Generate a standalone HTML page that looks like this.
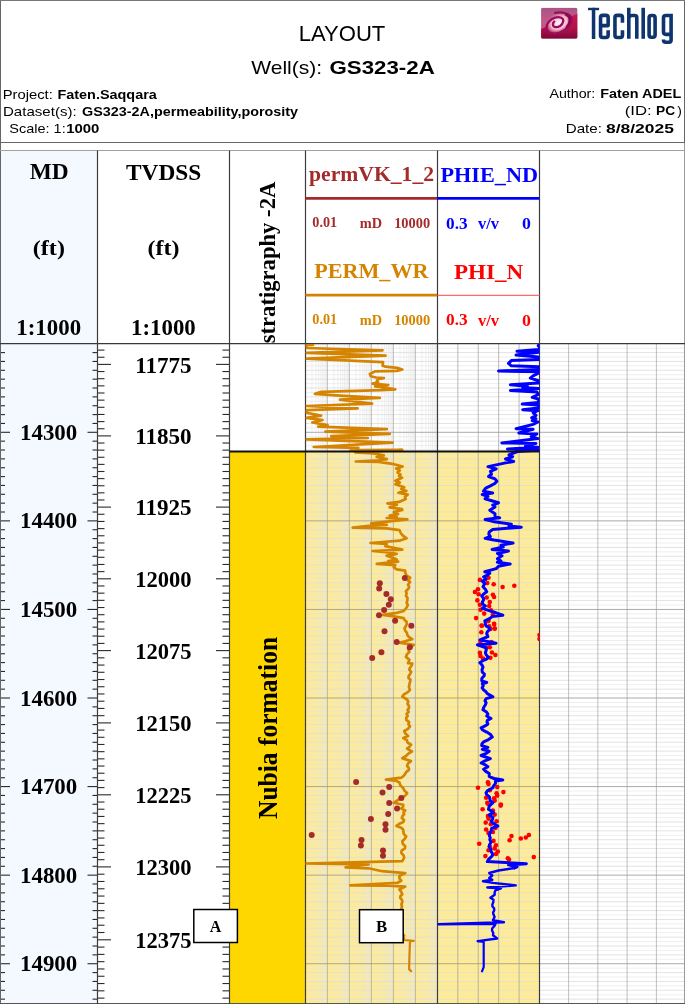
<!DOCTYPE html>
<html><head><meta charset="utf-8"><title>Layout</title>
<style>html,body{margin:0;padding:0;background:#fff;}body{width:685px;height:1004px;overflow:hidden;font-family:"Liberation Sans",sans-serif;}svg{display:block;will-change:transform;}</style>
</head><body>
<svg width="685" height="1004" viewBox="0 0 685 1004"><rect x="0" y="0" width="685" height="1004" fill="#fff"/>
<rect x="1" y="150.5" width="96.5" height="853" fill="#f4f8ff"/>
<rect x="230" y="451.5" width="75.4" height="551.5" fill="#ffd700"/>
<rect x="305.4" y="451.5" width="234.1" height="551.5" fill="#ffec92"/>
<line x1="312.02" y1="343.5" x2="312.02" y2="1003.0" stroke="rgba(228,228,228,0.6)" stroke-width="1"/>
<line x1="315.90" y1="343.5" x2="315.90" y2="1003.0" stroke="rgba(228,228,228,0.6)" stroke-width="1"/>
<line x1="318.65" y1="343.5" x2="318.65" y2="1003.0" stroke="rgba(228,228,228,0.6)" stroke-width="1"/>
<line x1="320.78" y1="343.5" x2="320.78" y2="1003.0" stroke="rgba(228,228,228,0.6)" stroke-width="1"/>
<line x1="322.52" y1="343.5" x2="322.52" y2="1003.0" stroke="rgba(228,228,228,0.6)" stroke-width="1"/>
<line x1="323.99" y1="343.5" x2="323.99" y2="1003.0" stroke="rgba(228,228,228,0.6)" stroke-width="1"/>
<line x1="325.27" y1="343.5" x2="325.27" y2="1003.0" stroke="rgba(228,228,228,0.6)" stroke-width="1"/>
<line x1="326.39" y1="343.5" x2="326.39" y2="1003.0" stroke="rgba(228,228,228,0.6)" stroke-width="1"/>
<line x1="334.02" y1="343.5" x2="334.02" y2="1003.0" stroke="rgba(228,228,228,0.6)" stroke-width="1"/>
<line x1="337.90" y1="343.5" x2="337.90" y2="1003.0" stroke="rgba(228,228,228,0.6)" stroke-width="1"/>
<line x1="340.65" y1="343.5" x2="340.65" y2="1003.0" stroke="rgba(228,228,228,0.6)" stroke-width="1"/>
<line x1="342.78" y1="343.5" x2="342.78" y2="1003.0" stroke="rgba(228,228,228,0.6)" stroke-width="1"/>
<line x1="344.52" y1="343.5" x2="344.52" y2="1003.0" stroke="rgba(228,228,228,0.6)" stroke-width="1"/>
<line x1="345.99" y1="343.5" x2="345.99" y2="1003.0" stroke="rgba(228,228,228,0.6)" stroke-width="1"/>
<line x1="347.27" y1="343.5" x2="347.27" y2="1003.0" stroke="rgba(228,228,228,0.6)" stroke-width="1"/>
<line x1="348.39" y1="343.5" x2="348.39" y2="1003.0" stroke="rgba(228,228,228,0.6)" stroke-width="1"/>
<line x1="356.02" y1="343.5" x2="356.02" y2="1003.0" stroke="rgba(228,228,228,0.6)" stroke-width="1"/>
<line x1="359.90" y1="343.5" x2="359.90" y2="1003.0" stroke="rgba(228,228,228,0.6)" stroke-width="1"/>
<line x1="362.65" y1="343.5" x2="362.65" y2="1003.0" stroke="rgba(228,228,228,0.6)" stroke-width="1"/>
<line x1="364.78" y1="343.5" x2="364.78" y2="1003.0" stroke="rgba(228,228,228,0.6)" stroke-width="1"/>
<line x1="366.52" y1="343.5" x2="366.52" y2="1003.0" stroke="rgba(228,228,228,0.6)" stroke-width="1"/>
<line x1="367.99" y1="343.5" x2="367.99" y2="1003.0" stroke="rgba(228,228,228,0.6)" stroke-width="1"/>
<line x1="369.27" y1="343.5" x2="369.27" y2="1003.0" stroke="rgba(228,228,228,0.6)" stroke-width="1"/>
<line x1="370.39" y1="343.5" x2="370.39" y2="1003.0" stroke="rgba(228,228,228,0.6)" stroke-width="1"/>
<line x1="378.02" y1="343.5" x2="378.02" y2="1003.0" stroke="rgba(228,228,228,0.6)" stroke-width="1"/>
<line x1="381.90" y1="343.5" x2="381.90" y2="1003.0" stroke="rgba(228,228,228,0.6)" stroke-width="1"/>
<line x1="384.65" y1="343.5" x2="384.65" y2="1003.0" stroke="rgba(228,228,228,0.6)" stroke-width="1"/>
<line x1="386.78" y1="343.5" x2="386.78" y2="1003.0" stroke="rgba(228,228,228,0.6)" stroke-width="1"/>
<line x1="388.52" y1="343.5" x2="388.52" y2="1003.0" stroke="rgba(228,228,228,0.6)" stroke-width="1"/>
<line x1="389.99" y1="343.5" x2="389.99" y2="1003.0" stroke="rgba(228,228,228,0.6)" stroke-width="1"/>
<line x1="391.27" y1="343.5" x2="391.27" y2="1003.0" stroke="rgba(228,228,228,0.6)" stroke-width="1"/>
<line x1="392.39" y1="343.5" x2="392.39" y2="1003.0" stroke="rgba(228,228,228,0.6)" stroke-width="1"/>
<line x1="400.02" y1="343.5" x2="400.02" y2="1003.0" stroke="rgba(228,228,228,0.6)" stroke-width="1"/>
<line x1="403.90" y1="343.5" x2="403.90" y2="1003.0" stroke="rgba(228,228,228,0.6)" stroke-width="1"/>
<line x1="406.65" y1="343.5" x2="406.65" y2="1003.0" stroke="rgba(228,228,228,0.6)" stroke-width="1"/>
<line x1="408.78" y1="343.5" x2="408.78" y2="1003.0" stroke="rgba(228,228,228,0.6)" stroke-width="1"/>
<line x1="410.52" y1="343.5" x2="410.52" y2="1003.0" stroke="rgba(228,228,228,0.6)" stroke-width="1"/>
<line x1="411.99" y1="343.5" x2="411.99" y2="1003.0" stroke="rgba(228,228,228,0.6)" stroke-width="1"/>
<line x1="413.27" y1="343.5" x2="413.27" y2="1003.0" stroke="rgba(228,228,228,0.6)" stroke-width="1"/>
<line x1="414.39" y1="343.5" x2="414.39" y2="1003.0" stroke="rgba(228,228,228,0.6)" stroke-width="1"/>
<line x1="422.02" y1="343.5" x2="422.02" y2="1003.0" stroke="rgba(228,228,228,0.6)" stroke-width="1"/>
<line x1="425.90" y1="343.5" x2="425.90" y2="1003.0" stroke="rgba(228,228,228,0.6)" stroke-width="1"/>
<line x1="428.65" y1="343.5" x2="428.65" y2="1003.0" stroke="rgba(228,228,228,0.6)" stroke-width="1"/>
<line x1="430.78" y1="343.5" x2="430.78" y2="1003.0" stroke="rgba(228,228,228,0.6)" stroke-width="1"/>
<line x1="432.52" y1="343.5" x2="432.52" y2="1003.0" stroke="rgba(228,228,228,0.6)" stroke-width="1"/>
<line x1="433.99" y1="343.5" x2="433.99" y2="1003.0" stroke="rgba(228,228,228,0.6)" stroke-width="1"/>
<line x1="435.27" y1="343.5" x2="435.27" y2="1003.0" stroke="rgba(228,228,228,0.6)" stroke-width="1"/>
<line x1="436.39" y1="343.5" x2="436.39" y2="1003.0" stroke="rgba(228,228,228,0.6)" stroke-width="1"/>
<line x1="305.4" y1="348.16" x2="437.4" y2="348.16" stroke="rgba(228,228,228,0.6)" stroke-width="1"/>
<line x1="305.4" y1="352.59" x2="437.4" y2="352.59" stroke="rgba(222,222,222,0.85)" stroke-width="1"/>
<line x1="305.4" y1="357.02" x2="437.4" y2="357.02" stroke="rgba(228,228,228,0.6)" stroke-width="1"/>
<line x1="305.4" y1="361.44" x2="437.4" y2="361.44" stroke="rgba(222,222,222,0.85)" stroke-width="1"/>
<line x1="305.4" y1="365.87" x2="437.4" y2="365.87" stroke="rgba(228,228,228,0.6)" stroke-width="1"/>
<line x1="305.4" y1="370.30" x2="437.4" y2="370.30" stroke="rgba(222,222,222,0.85)" stroke-width="1"/>
<line x1="305.4" y1="374.73" x2="437.4" y2="374.73" stroke="rgba(228,228,228,0.6)" stroke-width="1"/>
<line x1="305.4" y1="379.16" x2="437.4" y2="379.16" stroke="rgba(222,222,222,0.85)" stroke-width="1"/>
<line x1="305.4" y1="383.59" x2="437.4" y2="383.59" stroke="rgba(228,228,228,0.6)" stroke-width="1"/>
<line x1="305.4" y1="388.01" x2="437.4" y2="388.01" stroke="rgba(222,222,222,0.85)" stroke-width="1"/>
<line x1="305.4" y1="392.44" x2="437.4" y2="392.44" stroke="rgba(228,228,228,0.6)" stroke-width="1"/>
<line x1="305.4" y1="396.87" x2="437.4" y2="396.87" stroke="rgba(222,222,222,0.85)" stroke-width="1"/>
<line x1="305.4" y1="401.30" x2="437.4" y2="401.30" stroke="rgba(228,228,228,0.6)" stroke-width="1"/>
<line x1="305.4" y1="405.73" x2="437.4" y2="405.73" stroke="rgba(222,222,222,0.85)" stroke-width="1"/>
<line x1="305.4" y1="410.16" x2="437.4" y2="410.16" stroke="rgba(228,228,228,0.6)" stroke-width="1"/>
<line x1="305.4" y1="414.59" x2="437.4" y2="414.59" stroke="rgba(222,222,222,0.85)" stroke-width="1"/>
<line x1="305.4" y1="419.01" x2="437.4" y2="419.01" stroke="rgba(228,228,228,0.6)" stroke-width="1"/>
<line x1="305.4" y1="423.44" x2="437.4" y2="423.44" stroke="rgba(222,222,222,0.85)" stroke-width="1"/>
<line x1="305.4" y1="427.87" x2="437.4" y2="427.87" stroke="rgba(228,228,228,0.6)" stroke-width="1"/>
<line x1="305.4" y1="436.73" x2="437.4" y2="436.73" stroke="rgba(228,228,228,0.6)" stroke-width="1"/>
<line x1="305.4" y1="441.16" x2="437.4" y2="441.16" stroke="rgba(222,222,222,0.85)" stroke-width="1"/>
<line x1="305.4" y1="445.59" x2="437.4" y2="445.59" stroke="rgba(228,228,228,0.6)" stroke-width="1"/>
<line x1="305.4" y1="450.01" x2="437.4" y2="450.01" stroke="rgba(222,222,222,0.85)" stroke-width="1"/>
<line x1="305.4" y1="454.44" x2="437.4" y2="454.44" stroke="rgba(228,228,228,0.6)" stroke-width="1"/>
<line x1="305.4" y1="458.87" x2="437.4" y2="458.87" stroke="rgba(222,222,222,0.85)" stroke-width="1"/>
<line x1="305.4" y1="463.30" x2="437.4" y2="463.30" stroke="rgba(228,228,228,0.6)" stroke-width="1"/>
<line x1="305.4" y1="467.73" x2="437.4" y2="467.73" stroke="rgba(222,222,222,0.85)" stroke-width="1"/>
<line x1="305.4" y1="472.16" x2="437.4" y2="472.16" stroke="rgba(228,228,228,0.6)" stroke-width="1"/>
<line x1="305.4" y1="476.59" x2="437.4" y2="476.59" stroke="rgba(222,222,222,0.85)" stroke-width="1"/>
<line x1="305.4" y1="481.01" x2="437.4" y2="481.01" stroke="rgba(228,228,228,0.6)" stroke-width="1"/>
<line x1="305.4" y1="485.44" x2="437.4" y2="485.44" stroke="rgba(222,222,222,0.85)" stroke-width="1"/>
<line x1="305.4" y1="489.87" x2="437.4" y2="489.87" stroke="rgba(228,228,228,0.6)" stroke-width="1"/>
<line x1="305.4" y1="494.30" x2="437.4" y2="494.30" stroke="rgba(222,222,222,0.85)" stroke-width="1"/>
<line x1="305.4" y1="498.73" x2="437.4" y2="498.73" stroke="rgba(228,228,228,0.6)" stroke-width="1"/>
<line x1="305.4" y1="503.16" x2="437.4" y2="503.16" stroke="rgba(222,222,222,0.85)" stroke-width="1"/>
<line x1="305.4" y1="507.58" x2="437.4" y2="507.58" stroke="rgba(228,228,228,0.6)" stroke-width="1"/>
<line x1="305.4" y1="512.01" x2="437.4" y2="512.01" stroke="rgba(222,222,222,0.85)" stroke-width="1"/>
<line x1="305.4" y1="516.44" x2="437.4" y2="516.44" stroke="rgba(228,228,228,0.6)" stroke-width="1"/>
<line x1="305.4" y1="525.30" x2="437.4" y2="525.30" stroke="rgba(228,228,228,0.6)" stroke-width="1"/>
<line x1="305.4" y1="529.73" x2="437.4" y2="529.73" stroke="rgba(222,222,222,0.85)" stroke-width="1"/>
<line x1="305.4" y1="534.16" x2="437.4" y2="534.16" stroke="rgba(228,228,228,0.6)" stroke-width="1"/>
<line x1="305.4" y1="538.58" x2="437.4" y2="538.58" stroke="rgba(222,222,222,0.85)" stroke-width="1"/>
<line x1="305.4" y1="543.01" x2="437.4" y2="543.01" stroke="rgba(228,228,228,0.6)" stroke-width="1"/>
<line x1="305.4" y1="547.44" x2="437.4" y2="547.44" stroke="rgba(222,222,222,0.85)" stroke-width="1"/>
<line x1="305.4" y1="551.87" x2="437.4" y2="551.87" stroke="rgba(228,228,228,0.6)" stroke-width="1"/>
<line x1="305.4" y1="556.30" x2="437.4" y2="556.30" stroke="rgba(222,222,222,0.85)" stroke-width="1"/>
<line x1="305.4" y1="560.73" x2="437.4" y2="560.73" stroke="rgba(228,228,228,0.6)" stroke-width="1"/>
<line x1="305.4" y1="565.15" x2="437.4" y2="565.15" stroke="rgba(222,222,222,0.85)" stroke-width="1"/>
<line x1="305.4" y1="569.58" x2="437.4" y2="569.58" stroke="rgba(228,228,228,0.6)" stroke-width="1"/>
<line x1="305.4" y1="574.01" x2="437.4" y2="574.01" stroke="rgba(222,222,222,0.85)" stroke-width="1"/>
<line x1="305.4" y1="578.44" x2="437.4" y2="578.44" stroke="rgba(228,228,228,0.6)" stroke-width="1"/>
<line x1="305.4" y1="582.87" x2="437.4" y2="582.87" stroke="rgba(222,222,222,0.85)" stroke-width="1"/>
<line x1="305.4" y1="587.30" x2="437.4" y2="587.30" stroke="rgba(228,228,228,0.6)" stroke-width="1"/>
<line x1="305.4" y1="591.73" x2="437.4" y2="591.73" stroke="rgba(222,222,222,0.85)" stroke-width="1"/>
<line x1="305.4" y1="596.15" x2="437.4" y2="596.15" stroke="rgba(228,228,228,0.6)" stroke-width="1"/>
<line x1="305.4" y1="600.58" x2="437.4" y2="600.58" stroke="rgba(222,222,222,0.85)" stroke-width="1"/>
<line x1="305.4" y1="605.01" x2="437.4" y2="605.01" stroke="rgba(228,228,228,0.6)" stroke-width="1"/>
<line x1="305.4" y1="613.87" x2="437.4" y2="613.87" stroke="rgba(228,228,228,0.6)" stroke-width="1"/>
<line x1="305.4" y1="618.30" x2="437.4" y2="618.30" stroke="rgba(222,222,222,0.85)" stroke-width="1"/>
<line x1="305.4" y1="622.73" x2="437.4" y2="622.73" stroke="rgba(228,228,228,0.6)" stroke-width="1"/>
<line x1="305.4" y1="627.15" x2="437.4" y2="627.15" stroke="rgba(222,222,222,0.85)" stroke-width="1"/>
<line x1="305.4" y1="631.58" x2="437.4" y2="631.58" stroke="rgba(228,228,228,0.6)" stroke-width="1"/>
<line x1="305.4" y1="636.01" x2="437.4" y2="636.01" stroke="rgba(222,222,222,0.85)" stroke-width="1"/>
<line x1="305.4" y1="640.44" x2="437.4" y2="640.44" stroke="rgba(228,228,228,0.6)" stroke-width="1"/>
<line x1="305.4" y1="644.87" x2="437.4" y2="644.87" stroke="rgba(222,222,222,0.85)" stroke-width="1"/>
<line x1="305.4" y1="649.30" x2="437.4" y2="649.30" stroke="rgba(228,228,228,0.6)" stroke-width="1"/>
<line x1="305.4" y1="653.73" x2="437.4" y2="653.73" stroke="rgba(222,222,222,0.85)" stroke-width="1"/>
<line x1="305.4" y1="658.15" x2="437.4" y2="658.15" stroke="rgba(228,228,228,0.6)" stroke-width="1"/>
<line x1="305.4" y1="662.58" x2="437.4" y2="662.58" stroke="rgba(222,222,222,0.85)" stroke-width="1"/>
<line x1="305.4" y1="667.01" x2="437.4" y2="667.01" stroke="rgba(228,228,228,0.6)" stroke-width="1"/>
<line x1="305.4" y1="671.44" x2="437.4" y2="671.44" stroke="rgba(222,222,222,0.85)" stroke-width="1"/>
<line x1="305.4" y1="675.87" x2="437.4" y2="675.87" stroke="rgba(228,228,228,0.6)" stroke-width="1"/>
<line x1="305.4" y1="680.30" x2="437.4" y2="680.30" stroke="rgba(222,222,222,0.85)" stroke-width="1"/>
<line x1="305.4" y1="684.72" x2="437.4" y2="684.72" stroke="rgba(228,228,228,0.6)" stroke-width="1"/>
<line x1="305.4" y1="689.15" x2="437.4" y2="689.15" stroke="rgba(222,222,222,0.85)" stroke-width="1"/>
<line x1="305.4" y1="693.58" x2="437.4" y2="693.58" stroke="rgba(228,228,228,0.6)" stroke-width="1"/>
<line x1="305.4" y1="702.44" x2="437.4" y2="702.44" stroke="rgba(228,228,228,0.6)" stroke-width="1"/>
<line x1="305.4" y1="706.87" x2="437.4" y2="706.87" stroke="rgba(222,222,222,0.85)" stroke-width="1"/>
<line x1="305.4" y1="711.30" x2="437.4" y2="711.30" stroke="rgba(228,228,228,0.6)" stroke-width="1"/>
<line x1="305.4" y1="715.72" x2="437.4" y2="715.72" stroke="rgba(222,222,222,0.85)" stroke-width="1"/>
<line x1="305.4" y1="720.15" x2="437.4" y2="720.15" stroke="rgba(228,228,228,0.6)" stroke-width="1"/>
<line x1="305.4" y1="724.58" x2="437.4" y2="724.58" stroke="rgba(222,222,222,0.85)" stroke-width="1"/>
<line x1="305.4" y1="729.01" x2="437.4" y2="729.01" stroke="rgba(228,228,228,0.6)" stroke-width="1"/>
<line x1="305.4" y1="733.44" x2="437.4" y2="733.44" stroke="rgba(222,222,222,0.85)" stroke-width="1"/>
<line x1="305.4" y1="737.87" x2="437.4" y2="737.87" stroke="rgba(228,228,228,0.6)" stroke-width="1"/>
<line x1="305.4" y1="742.30" x2="437.4" y2="742.30" stroke="rgba(222,222,222,0.85)" stroke-width="1"/>
<line x1="305.4" y1="746.72" x2="437.4" y2="746.72" stroke="rgba(228,228,228,0.6)" stroke-width="1"/>
<line x1="305.4" y1="751.15" x2="437.4" y2="751.15" stroke="rgba(222,222,222,0.85)" stroke-width="1"/>
<line x1="305.4" y1="755.58" x2="437.4" y2="755.58" stroke="rgba(228,228,228,0.6)" stroke-width="1"/>
<line x1="305.4" y1="760.01" x2="437.4" y2="760.01" stroke="rgba(222,222,222,0.85)" stroke-width="1"/>
<line x1="305.4" y1="764.44" x2="437.4" y2="764.44" stroke="rgba(228,228,228,0.6)" stroke-width="1"/>
<line x1="305.4" y1="768.87" x2="437.4" y2="768.87" stroke="rgba(222,222,222,0.85)" stroke-width="1"/>
<line x1="305.4" y1="773.29" x2="437.4" y2="773.29" stroke="rgba(228,228,228,0.6)" stroke-width="1"/>
<line x1="305.4" y1="777.72" x2="437.4" y2="777.72" stroke="rgba(222,222,222,0.85)" stroke-width="1"/>
<line x1="305.4" y1="782.15" x2="437.4" y2="782.15" stroke="rgba(228,228,228,0.6)" stroke-width="1"/>
<line x1="305.4" y1="791.01" x2="437.4" y2="791.01" stroke="rgba(228,228,228,0.6)" stroke-width="1"/>
<line x1="305.4" y1="795.44" x2="437.4" y2="795.44" stroke="rgba(222,222,222,0.85)" stroke-width="1"/>
<line x1="305.4" y1="799.87" x2="437.4" y2="799.87" stroke="rgba(228,228,228,0.6)" stroke-width="1"/>
<line x1="305.4" y1="804.29" x2="437.4" y2="804.29" stroke="rgba(222,222,222,0.85)" stroke-width="1"/>
<line x1="305.4" y1="808.72" x2="437.4" y2="808.72" stroke="rgba(228,228,228,0.6)" stroke-width="1"/>
<line x1="305.4" y1="813.15" x2="437.4" y2="813.15" stroke="rgba(222,222,222,0.85)" stroke-width="1"/>
<line x1="305.4" y1="817.58" x2="437.4" y2="817.58" stroke="rgba(228,228,228,0.6)" stroke-width="1"/>
<line x1="305.4" y1="822.01" x2="437.4" y2="822.01" stroke="rgba(222,222,222,0.85)" stroke-width="1"/>
<line x1="305.4" y1="826.44" x2="437.4" y2="826.44" stroke="rgba(228,228,228,0.6)" stroke-width="1"/>
<line x1="305.4" y1="830.87" x2="437.4" y2="830.87" stroke="rgba(222,222,222,0.85)" stroke-width="1"/>
<line x1="305.4" y1="835.29" x2="437.4" y2="835.29" stroke="rgba(228,228,228,0.6)" stroke-width="1"/>
<line x1="305.4" y1="839.72" x2="437.4" y2="839.72" stroke="rgba(222,222,222,0.85)" stroke-width="1"/>
<line x1="305.4" y1="844.15" x2="437.4" y2="844.15" stroke="rgba(228,228,228,0.6)" stroke-width="1"/>
<line x1="305.4" y1="848.58" x2="437.4" y2="848.58" stroke="rgba(222,222,222,0.85)" stroke-width="1"/>
<line x1="305.4" y1="853.01" x2="437.4" y2="853.01" stroke="rgba(228,228,228,0.6)" stroke-width="1"/>
<line x1="305.4" y1="857.44" x2="437.4" y2="857.44" stroke="rgba(222,222,222,0.85)" stroke-width="1"/>
<line x1="305.4" y1="861.86" x2="437.4" y2="861.86" stroke="rgba(228,228,228,0.6)" stroke-width="1"/>
<line x1="305.4" y1="866.29" x2="437.4" y2="866.29" stroke="rgba(222,222,222,0.85)" stroke-width="1"/>
<line x1="305.4" y1="870.72" x2="437.4" y2="870.72" stroke="rgba(228,228,228,0.6)" stroke-width="1"/>
<line x1="305.4" y1="879.58" x2="437.4" y2="879.58" stroke="rgba(228,228,228,0.6)" stroke-width="1"/>
<line x1="305.4" y1="884.01" x2="437.4" y2="884.01" stroke="rgba(222,222,222,0.85)" stroke-width="1"/>
<line x1="305.4" y1="888.44" x2="437.4" y2="888.44" stroke="rgba(228,228,228,0.6)" stroke-width="1"/>
<line x1="305.4" y1="892.86" x2="437.4" y2="892.86" stroke="rgba(222,222,222,0.85)" stroke-width="1"/>
<line x1="305.4" y1="897.29" x2="437.4" y2="897.29" stroke="rgba(228,228,228,0.6)" stroke-width="1"/>
<line x1="305.4" y1="901.72" x2="437.4" y2="901.72" stroke="rgba(222,222,222,0.85)" stroke-width="1"/>
<line x1="305.4" y1="906.15" x2="437.4" y2="906.15" stroke="rgba(228,228,228,0.6)" stroke-width="1"/>
<line x1="305.4" y1="910.58" x2="437.4" y2="910.58" stroke="rgba(222,222,222,0.85)" stroke-width="1"/>
<line x1="305.4" y1="915.01" x2="437.4" y2="915.01" stroke="rgba(228,228,228,0.6)" stroke-width="1"/>
<line x1="305.4" y1="919.44" x2="437.4" y2="919.44" stroke="rgba(222,222,222,0.85)" stroke-width="1"/>
<line x1="305.4" y1="923.86" x2="437.4" y2="923.86" stroke="rgba(228,228,228,0.6)" stroke-width="1"/>
<line x1="305.4" y1="928.29" x2="437.4" y2="928.29" stroke="rgba(222,222,222,0.85)" stroke-width="1"/>
<line x1="305.4" y1="932.72" x2="437.4" y2="932.72" stroke="rgba(228,228,228,0.6)" stroke-width="1"/>
<line x1="305.4" y1="937.15" x2="437.4" y2="937.15" stroke="rgba(222,222,222,0.85)" stroke-width="1"/>
<line x1="305.4" y1="941.58" x2="437.4" y2="941.58" stroke="rgba(228,228,228,0.6)" stroke-width="1"/>
<line x1="305.4" y1="946.01" x2="437.4" y2="946.01" stroke="rgba(222,222,222,0.85)" stroke-width="1"/>
<line x1="305.4" y1="950.43" x2="437.4" y2="950.43" stroke="rgba(228,228,228,0.6)" stroke-width="1"/>
<line x1="305.4" y1="954.86" x2="437.4" y2="954.86" stroke="rgba(222,222,222,0.85)" stroke-width="1"/>
<line x1="305.4" y1="959.29" x2="437.4" y2="959.29" stroke="rgba(228,228,228,0.6)" stroke-width="1"/>
<line x1="305.4" y1="968.15" x2="437.4" y2="968.15" stroke="rgba(228,228,228,0.6)" stroke-width="1"/>
<line x1="305.4" y1="972.58" x2="437.4" y2="972.58" stroke="rgba(222,222,222,0.85)" stroke-width="1"/>
<line x1="305.4" y1="977.01" x2="437.4" y2="977.01" stroke="rgba(228,228,228,0.6)" stroke-width="1"/>
<line x1="305.4" y1="981.43" x2="437.4" y2="981.43" stroke="rgba(222,222,222,0.85)" stroke-width="1"/>
<line x1="305.4" y1="985.86" x2="437.4" y2="985.86" stroke="rgba(228,228,228,0.6)" stroke-width="1"/>
<line x1="305.4" y1="990.29" x2="437.4" y2="990.29" stroke="rgba(222,222,222,0.85)" stroke-width="1"/>
<line x1="305.4" y1="994.72" x2="437.4" y2="994.72" stroke="rgba(228,228,228,0.6)" stroke-width="1"/>
<line x1="305.4" y1="999.15" x2="437.4" y2="999.15" stroke="rgba(222,222,222,0.85)" stroke-width="1"/>
<line x1="437.4" y1="348.16" x2="539.5" y2="348.16" stroke="rgba(228,228,228,0.6)" stroke-width="1"/>
<line x1="437.4" y1="352.59" x2="539.5" y2="352.59" stroke="rgba(222,222,222,0.85)" stroke-width="1"/>
<line x1="437.4" y1="357.02" x2="539.5" y2="357.02" stroke="rgba(228,228,228,0.6)" stroke-width="1"/>
<line x1="437.4" y1="361.44" x2="539.5" y2="361.44" stroke="rgba(222,222,222,0.85)" stroke-width="1"/>
<line x1="437.4" y1="365.87" x2="539.5" y2="365.87" stroke="rgba(228,228,228,0.6)" stroke-width="1"/>
<line x1="437.4" y1="370.30" x2="539.5" y2="370.30" stroke="rgba(222,222,222,0.85)" stroke-width="1"/>
<line x1="437.4" y1="374.73" x2="539.5" y2="374.73" stroke="rgba(228,228,228,0.6)" stroke-width="1"/>
<line x1="437.4" y1="379.16" x2="539.5" y2="379.16" stroke="rgba(222,222,222,0.85)" stroke-width="1"/>
<line x1="437.4" y1="383.59" x2="539.5" y2="383.59" stroke="rgba(228,228,228,0.6)" stroke-width="1"/>
<line x1="437.4" y1="388.01" x2="539.5" y2="388.01" stroke="rgba(222,222,222,0.85)" stroke-width="1"/>
<line x1="437.4" y1="392.44" x2="539.5" y2="392.44" stroke="rgba(228,228,228,0.6)" stroke-width="1"/>
<line x1="437.4" y1="396.87" x2="539.5" y2="396.87" stroke="rgba(222,222,222,0.85)" stroke-width="1"/>
<line x1="437.4" y1="401.30" x2="539.5" y2="401.30" stroke="rgba(228,228,228,0.6)" stroke-width="1"/>
<line x1="437.4" y1="405.73" x2="539.5" y2="405.73" stroke="rgba(222,222,222,0.85)" stroke-width="1"/>
<line x1="437.4" y1="410.16" x2="539.5" y2="410.16" stroke="rgba(228,228,228,0.6)" stroke-width="1"/>
<line x1="437.4" y1="414.59" x2="539.5" y2="414.59" stroke="rgba(222,222,222,0.85)" stroke-width="1"/>
<line x1="437.4" y1="419.01" x2="539.5" y2="419.01" stroke="rgba(228,228,228,0.6)" stroke-width="1"/>
<line x1="437.4" y1="423.44" x2="539.5" y2="423.44" stroke="rgba(222,222,222,0.85)" stroke-width="1"/>
<line x1="437.4" y1="427.87" x2="539.5" y2="427.87" stroke="rgba(228,228,228,0.6)" stroke-width="1"/>
<line x1="437.4" y1="436.73" x2="539.5" y2="436.73" stroke="rgba(228,228,228,0.6)" stroke-width="1"/>
<line x1="437.4" y1="441.16" x2="539.5" y2="441.16" stroke="rgba(222,222,222,0.85)" stroke-width="1"/>
<line x1="437.4" y1="445.59" x2="539.5" y2="445.59" stroke="rgba(228,228,228,0.6)" stroke-width="1"/>
<line x1="437.4" y1="450.01" x2="539.5" y2="450.01" stroke="rgba(222,222,222,0.85)" stroke-width="1"/>
<line x1="437.4" y1="454.44" x2="539.5" y2="454.44" stroke="rgba(228,228,228,0.6)" stroke-width="1"/>
<line x1="437.4" y1="458.87" x2="539.5" y2="458.87" stroke="rgba(222,222,222,0.85)" stroke-width="1"/>
<line x1="437.4" y1="463.30" x2="539.5" y2="463.30" stroke="rgba(228,228,228,0.6)" stroke-width="1"/>
<line x1="437.4" y1="467.73" x2="539.5" y2="467.73" stroke="rgba(222,222,222,0.85)" stroke-width="1"/>
<line x1="437.4" y1="472.16" x2="539.5" y2="472.16" stroke="rgba(228,228,228,0.6)" stroke-width="1"/>
<line x1="437.4" y1="476.59" x2="539.5" y2="476.59" stroke="rgba(222,222,222,0.85)" stroke-width="1"/>
<line x1="437.4" y1="481.01" x2="539.5" y2="481.01" stroke="rgba(228,228,228,0.6)" stroke-width="1"/>
<line x1="437.4" y1="485.44" x2="539.5" y2="485.44" stroke="rgba(222,222,222,0.85)" stroke-width="1"/>
<line x1="437.4" y1="489.87" x2="539.5" y2="489.87" stroke="rgba(228,228,228,0.6)" stroke-width="1"/>
<line x1="437.4" y1="494.30" x2="539.5" y2="494.30" stroke="rgba(222,222,222,0.85)" stroke-width="1"/>
<line x1="437.4" y1="498.73" x2="539.5" y2="498.73" stroke="rgba(228,228,228,0.6)" stroke-width="1"/>
<line x1="437.4" y1="503.16" x2="539.5" y2="503.16" stroke="rgba(222,222,222,0.85)" stroke-width="1"/>
<line x1="437.4" y1="507.58" x2="539.5" y2="507.58" stroke="rgba(228,228,228,0.6)" stroke-width="1"/>
<line x1="437.4" y1="512.01" x2="539.5" y2="512.01" stroke="rgba(222,222,222,0.85)" stroke-width="1"/>
<line x1="437.4" y1="516.44" x2="539.5" y2="516.44" stroke="rgba(228,228,228,0.6)" stroke-width="1"/>
<line x1="437.4" y1="525.30" x2="539.5" y2="525.30" stroke="rgba(228,228,228,0.6)" stroke-width="1"/>
<line x1="437.4" y1="529.73" x2="539.5" y2="529.73" stroke="rgba(222,222,222,0.85)" stroke-width="1"/>
<line x1="437.4" y1="534.16" x2="539.5" y2="534.16" stroke="rgba(228,228,228,0.6)" stroke-width="1"/>
<line x1="437.4" y1="538.58" x2="539.5" y2="538.58" stroke="rgba(222,222,222,0.85)" stroke-width="1"/>
<line x1="437.4" y1="543.01" x2="539.5" y2="543.01" stroke="rgba(228,228,228,0.6)" stroke-width="1"/>
<line x1="437.4" y1="547.44" x2="539.5" y2="547.44" stroke="rgba(222,222,222,0.85)" stroke-width="1"/>
<line x1="437.4" y1="551.87" x2="539.5" y2="551.87" stroke="rgba(228,228,228,0.6)" stroke-width="1"/>
<line x1="437.4" y1="556.30" x2="539.5" y2="556.30" stroke="rgba(222,222,222,0.85)" stroke-width="1"/>
<line x1="437.4" y1="560.73" x2="539.5" y2="560.73" stroke="rgba(228,228,228,0.6)" stroke-width="1"/>
<line x1="437.4" y1="565.15" x2="539.5" y2="565.15" stroke="rgba(222,222,222,0.85)" stroke-width="1"/>
<line x1="437.4" y1="569.58" x2="539.5" y2="569.58" stroke="rgba(228,228,228,0.6)" stroke-width="1"/>
<line x1="437.4" y1="574.01" x2="539.5" y2="574.01" stroke="rgba(222,222,222,0.85)" stroke-width="1"/>
<line x1="437.4" y1="578.44" x2="539.5" y2="578.44" stroke="rgba(228,228,228,0.6)" stroke-width="1"/>
<line x1="437.4" y1="582.87" x2="539.5" y2="582.87" stroke="rgba(222,222,222,0.85)" stroke-width="1"/>
<line x1="437.4" y1="587.30" x2="539.5" y2="587.30" stroke="rgba(228,228,228,0.6)" stroke-width="1"/>
<line x1="437.4" y1="591.73" x2="539.5" y2="591.73" stroke="rgba(222,222,222,0.85)" stroke-width="1"/>
<line x1="437.4" y1="596.15" x2="539.5" y2="596.15" stroke="rgba(228,228,228,0.6)" stroke-width="1"/>
<line x1="437.4" y1="600.58" x2="539.5" y2="600.58" stroke="rgba(222,222,222,0.85)" stroke-width="1"/>
<line x1="437.4" y1="605.01" x2="539.5" y2="605.01" stroke="rgba(228,228,228,0.6)" stroke-width="1"/>
<line x1="437.4" y1="613.87" x2="539.5" y2="613.87" stroke="rgba(228,228,228,0.6)" stroke-width="1"/>
<line x1="437.4" y1="618.30" x2="539.5" y2="618.30" stroke="rgba(222,222,222,0.85)" stroke-width="1"/>
<line x1="437.4" y1="622.73" x2="539.5" y2="622.73" stroke="rgba(228,228,228,0.6)" stroke-width="1"/>
<line x1="437.4" y1="627.15" x2="539.5" y2="627.15" stroke="rgba(222,222,222,0.85)" stroke-width="1"/>
<line x1="437.4" y1="631.58" x2="539.5" y2="631.58" stroke="rgba(228,228,228,0.6)" stroke-width="1"/>
<line x1="437.4" y1="636.01" x2="539.5" y2="636.01" stroke="rgba(222,222,222,0.85)" stroke-width="1"/>
<line x1="437.4" y1="640.44" x2="539.5" y2="640.44" stroke="rgba(228,228,228,0.6)" stroke-width="1"/>
<line x1="437.4" y1="644.87" x2="539.5" y2="644.87" stroke="rgba(222,222,222,0.85)" stroke-width="1"/>
<line x1="437.4" y1="649.30" x2="539.5" y2="649.30" stroke="rgba(228,228,228,0.6)" stroke-width="1"/>
<line x1="437.4" y1="653.73" x2="539.5" y2="653.73" stroke="rgba(222,222,222,0.85)" stroke-width="1"/>
<line x1="437.4" y1="658.15" x2="539.5" y2="658.15" stroke="rgba(228,228,228,0.6)" stroke-width="1"/>
<line x1="437.4" y1="662.58" x2="539.5" y2="662.58" stroke="rgba(222,222,222,0.85)" stroke-width="1"/>
<line x1="437.4" y1="667.01" x2="539.5" y2="667.01" stroke="rgba(228,228,228,0.6)" stroke-width="1"/>
<line x1="437.4" y1="671.44" x2="539.5" y2="671.44" stroke="rgba(222,222,222,0.85)" stroke-width="1"/>
<line x1="437.4" y1="675.87" x2="539.5" y2="675.87" stroke="rgba(228,228,228,0.6)" stroke-width="1"/>
<line x1="437.4" y1="680.30" x2="539.5" y2="680.30" stroke="rgba(222,222,222,0.85)" stroke-width="1"/>
<line x1="437.4" y1="684.72" x2="539.5" y2="684.72" stroke="rgba(228,228,228,0.6)" stroke-width="1"/>
<line x1="437.4" y1="689.15" x2="539.5" y2="689.15" stroke="rgba(222,222,222,0.85)" stroke-width="1"/>
<line x1="437.4" y1="693.58" x2="539.5" y2="693.58" stroke="rgba(228,228,228,0.6)" stroke-width="1"/>
<line x1="437.4" y1="702.44" x2="539.5" y2="702.44" stroke="rgba(228,228,228,0.6)" stroke-width="1"/>
<line x1="437.4" y1="706.87" x2="539.5" y2="706.87" stroke="rgba(222,222,222,0.85)" stroke-width="1"/>
<line x1="437.4" y1="711.30" x2="539.5" y2="711.30" stroke="rgba(228,228,228,0.6)" stroke-width="1"/>
<line x1="437.4" y1="715.72" x2="539.5" y2="715.72" stroke="rgba(222,222,222,0.85)" stroke-width="1"/>
<line x1="437.4" y1="720.15" x2="539.5" y2="720.15" stroke="rgba(228,228,228,0.6)" stroke-width="1"/>
<line x1="437.4" y1="724.58" x2="539.5" y2="724.58" stroke="rgba(222,222,222,0.85)" stroke-width="1"/>
<line x1="437.4" y1="729.01" x2="539.5" y2="729.01" stroke="rgba(228,228,228,0.6)" stroke-width="1"/>
<line x1="437.4" y1="733.44" x2="539.5" y2="733.44" stroke="rgba(222,222,222,0.85)" stroke-width="1"/>
<line x1="437.4" y1="737.87" x2="539.5" y2="737.87" stroke="rgba(228,228,228,0.6)" stroke-width="1"/>
<line x1="437.4" y1="742.30" x2="539.5" y2="742.30" stroke="rgba(222,222,222,0.85)" stroke-width="1"/>
<line x1="437.4" y1="746.72" x2="539.5" y2="746.72" stroke="rgba(228,228,228,0.6)" stroke-width="1"/>
<line x1="437.4" y1="751.15" x2="539.5" y2="751.15" stroke="rgba(222,222,222,0.85)" stroke-width="1"/>
<line x1="437.4" y1="755.58" x2="539.5" y2="755.58" stroke="rgba(228,228,228,0.6)" stroke-width="1"/>
<line x1="437.4" y1="760.01" x2="539.5" y2="760.01" stroke="rgba(222,222,222,0.85)" stroke-width="1"/>
<line x1="437.4" y1="764.44" x2="539.5" y2="764.44" stroke="rgba(228,228,228,0.6)" stroke-width="1"/>
<line x1="437.4" y1="768.87" x2="539.5" y2="768.87" stroke="rgba(222,222,222,0.85)" stroke-width="1"/>
<line x1="437.4" y1="773.29" x2="539.5" y2="773.29" stroke="rgba(228,228,228,0.6)" stroke-width="1"/>
<line x1="437.4" y1="777.72" x2="539.5" y2="777.72" stroke="rgba(222,222,222,0.85)" stroke-width="1"/>
<line x1="437.4" y1="782.15" x2="539.5" y2="782.15" stroke="rgba(228,228,228,0.6)" stroke-width="1"/>
<line x1="437.4" y1="791.01" x2="539.5" y2="791.01" stroke="rgba(228,228,228,0.6)" stroke-width="1"/>
<line x1="437.4" y1="795.44" x2="539.5" y2="795.44" stroke="rgba(222,222,222,0.85)" stroke-width="1"/>
<line x1="437.4" y1="799.87" x2="539.5" y2="799.87" stroke="rgba(228,228,228,0.6)" stroke-width="1"/>
<line x1="437.4" y1="804.29" x2="539.5" y2="804.29" stroke="rgba(222,222,222,0.85)" stroke-width="1"/>
<line x1="437.4" y1="808.72" x2="539.5" y2="808.72" stroke="rgba(228,228,228,0.6)" stroke-width="1"/>
<line x1="437.4" y1="813.15" x2="539.5" y2="813.15" stroke="rgba(222,222,222,0.85)" stroke-width="1"/>
<line x1="437.4" y1="817.58" x2="539.5" y2="817.58" stroke="rgba(228,228,228,0.6)" stroke-width="1"/>
<line x1="437.4" y1="822.01" x2="539.5" y2="822.01" stroke="rgba(222,222,222,0.85)" stroke-width="1"/>
<line x1="437.4" y1="826.44" x2="539.5" y2="826.44" stroke="rgba(228,228,228,0.6)" stroke-width="1"/>
<line x1="437.4" y1="830.87" x2="539.5" y2="830.87" stroke="rgba(222,222,222,0.85)" stroke-width="1"/>
<line x1="437.4" y1="835.29" x2="539.5" y2="835.29" stroke="rgba(228,228,228,0.6)" stroke-width="1"/>
<line x1="437.4" y1="839.72" x2="539.5" y2="839.72" stroke="rgba(222,222,222,0.85)" stroke-width="1"/>
<line x1="437.4" y1="844.15" x2="539.5" y2="844.15" stroke="rgba(228,228,228,0.6)" stroke-width="1"/>
<line x1="437.4" y1="848.58" x2="539.5" y2="848.58" stroke="rgba(222,222,222,0.85)" stroke-width="1"/>
<line x1="437.4" y1="853.01" x2="539.5" y2="853.01" stroke="rgba(228,228,228,0.6)" stroke-width="1"/>
<line x1="437.4" y1="857.44" x2="539.5" y2="857.44" stroke="rgba(222,222,222,0.85)" stroke-width="1"/>
<line x1="437.4" y1="861.86" x2="539.5" y2="861.86" stroke="rgba(228,228,228,0.6)" stroke-width="1"/>
<line x1="437.4" y1="866.29" x2="539.5" y2="866.29" stroke="rgba(222,222,222,0.85)" stroke-width="1"/>
<line x1="437.4" y1="870.72" x2="539.5" y2="870.72" stroke="rgba(228,228,228,0.6)" stroke-width="1"/>
<line x1="437.4" y1="879.58" x2="539.5" y2="879.58" stroke="rgba(228,228,228,0.6)" stroke-width="1"/>
<line x1="437.4" y1="884.01" x2="539.5" y2="884.01" stroke="rgba(222,222,222,0.85)" stroke-width="1"/>
<line x1="437.4" y1="888.44" x2="539.5" y2="888.44" stroke="rgba(228,228,228,0.6)" stroke-width="1"/>
<line x1="437.4" y1="892.86" x2="539.5" y2="892.86" stroke="rgba(222,222,222,0.85)" stroke-width="1"/>
<line x1="437.4" y1="897.29" x2="539.5" y2="897.29" stroke="rgba(228,228,228,0.6)" stroke-width="1"/>
<line x1="437.4" y1="901.72" x2="539.5" y2="901.72" stroke="rgba(222,222,222,0.85)" stroke-width="1"/>
<line x1="437.4" y1="906.15" x2="539.5" y2="906.15" stroke="rgba(228,228,228,0.6)" stroke-width="1"/>
<line x1="437.4" y1="910.58" x2="539.5" y2="910.58" stroke="rgba(222,222,222,0.85)" stroke-width="1"/>
<line x1="437.4" y1="915.01" x2="539.5" y2="915.01" stroke="rgba(228,228,228,0.6)" stroke-width="1"/>
<line x1="437.4" y1="919.44" x2="539.5" y2="919.44" stroke="rgba(222,222,222,0.85)" stroke-width="1"/>
<line x1="437.4" y1="923.86" x2="539.5" y2="923.86" stroke="rgba(228,228,228,0.6)" stroke-width="1"/>
<line x1="437.4" y1="928.29" x2="539.5" y2="928.29" stroke="rgba(222,222,222,0.85)" stroke-width="1"/>
<line x1="437.4" y1="932.72" x2="539.5" y2="932.72" stroke="rgba(228,228,228,0.6)" stroke-width="1"/>
<line x1="437.4" y1="937.15" x2="539.5" y2="937.15" stroke="rgba(222,222,222,0.85)" stroke-width="1"/>
<line x1="437.4" y1="941.58" x2="539.5" y2="941.58" stroke="rgba(228,228,228,0.6)" stroke-width="1"/>
<line x1="437.4" y1="946.01" x2="539.5" y2="946.01" stroke="rgba(222,222,222,0.85)" stroke-width="1"/>
<line x1="437.4" y1="950.43" x2="539.5" y2="950.43" stroke="rgba(228,228,228,0.6)" stroke-width="1"/>
<line x1="437.4" y1="954.86" x2="539.5" y2="954.86" stroke="rgba(222,222,222,0.85)" stroke-width="1"/>
<line x1="437.4" y1="959.29" x2="539.5" y2="959.29" stroke="rgba(228,228,228,0.6)" stroke-width="1"/>
<line x1="437.4" y1="968.15" x2="539.5" y2="968.15" stroke="rgba(228,228,228,0.6)" stroke-width="1"/>
<line x1="437.4" y1="972.58" x2="539.5" y2="972.58" stroke="rgba(222,222,222,0.85)" stroke-width="1"/>
<line x1="437.4" y1="977.01" x2="539.5" y2="977.01" stroke="rgba(228,228,228,0.6)" stroke-width="1"/>
<line x1="437.4" y1="981.43" x2="539.5" y2="981.43" stroke="rgba(222,222,222,0.85)" stroke-width="1"/>
<line x1="437.4" y1="985.86" x2="539.5" y2="985.86" stroke="rgba(228,228,228,0.6)" stroke-width="1"/>
<line x1="437.4" y1="990.29" x2="539.5" y2="990.29" stroke="rgba(222,222,222,0.85)" stroke-width="1"/>
<line x1="437.4" y1="994.72" x2="539.5" y2="994.72" stroke="rgba(228,228,228,0.6)" stroke-width="1"/>
<line x1="437.4" y1="999.15" x2="539.5" y2="999.15" stroke="rgba(222,222,222,0.85)" stroke-width="1"/>
<line x1="539.5" y1="348.16" x2="684.3" y2="348.16" stroke="rgba(228,228,228,0.6)" stroke-width="1"/>
<line x1="539.5" y1="352.59" x2="684.3" y2="352.59" stroke="rgba(222,222,222,0.85)" stroke-width="1"/>
<line x1="539.5" y1="357.02" x2="684.3" y2="357.02" stroke="rgba(228,228,228,0.6)" stroke-width="1"/>
<line x1="539.5" y1="361.44" x2="684.3" y2="361.44" stroke="rgba(222,222,222,0.85)" stroke-width="1"/>
<line x1="539.5" y1="365.87" x2="684.3" y2="365.87" stroke="rgba(228,228,228,0.6)" stroke-width="1"/>
<line x1="539.5" y1="370.30" x2="684.3" y2="370.30" stroke="rgba(222,222,222,0.85)" stroke-width="1"/>
<line x1="539.5" y1="374.73" x2="684.3" y2="374.73" stroke="rgba(228,228,228,0.6)" stroke-width="1"/>
<line x1="539.5" y1="379.16" x2="684.3" y2="379.16" stroke="rgba(222,222,222,0.85)" stroke-width="1"/>
<line x1="539.5" y1="383.59" x2="684.3" y2="383.59" stroke="rgba(228,228,228,0.6)" stroke-width="1"/>
<line x1="539.5" y1="388.01" x2="684.3" y2="388.01" stroke="rgba(222,222,222,0.85)" stroke-width="1"/>
<line x1="539.5" y1="392.44" x2="684.3" y2="392.44" stroke="rgba(228,228,228,0.6)" stroke-width="1"/>
<line x1="539.5" y1="396.87" x2="684.3" y2="396.87" stroke="rgba(222,222,222,0.85)" stroke-width="1"/>
<line x1="539.5" y1="401.30" x2="684.3" y2="401.30" stroke="rgba(228,228,228,0.6)" stroke-width="1"/>
<line x1="539.5" y1="405.73" x2="684.3" y2="405.73" stroke="rgba(222,222,222,0.85)" stroke-width="1"/>
<line x1="539.5" y1="410.16" x2="684.3" y2="410.16" stroke="rgba(228,228,228,0.6)" stroke-width="1"/>
<line x1="539.5" y1="414.59" x2="684.3" y2="414.59" stroke="rgba(222,222,222,0.85)" stroke-width="1"/>
<line x1="539.5" y1="419.01" x2="684.3" y2="419.01" stroke="rgba(228,228,228,0.6)" stroke-width="1"/>
<line x1="539.5" y1="423.44" x2="684.3" y2="423.44" stroke="rgba(222,222,222,0.85)" stroke-width="1"/>
<line x1="539.5" y1="427.87" x2="684.3" y2="427.87" stroke="rgba(228,228,228,0.6)" stroke-width="1"/>
<line x1="539.5" y1="436.73" x2="684.3" y2="436.73" stroke="rgba(228,228,228,0.6)" stroke-width="1"/>
<line x1="539.5" y1="441.16" x2="684.3" y2="441.16" stroke="rgba(222,222,222,0.85)" stroke-width="1"/>
<line x1="539.5" y1="445.59" x2="684.3" y2="445.59" stroke="rgba(228,228,228,0.6)" stroke-width="1"/>
<line x1="539.5" y1="450.01" x2="684.3" y2="450.01" stroke="rgba(222,222,222,0.85)" stroke-width="1"/>
<line x1="539.5" y1="454.44" x2="684.3" y2="454.44" stroke="rgba(228,228,228,0.6)" stroke-width="1"/>
<line x1="539.5" y1="458.87" x2="684.3" y2="458.87" stroke="rgba(222,222,222,0.85)" stroke-width="1"/>
<line x1="539.5" y1="463.30" x2="684.3" y2="463.30" stroke="rgba(228,228,228,0.6)" stroke-width="1"/>
<line x1="539.5" y1="467.73" x2="684.3" y2="467.73" stroke="rgba(222,222,222,0.85)" stroke-width="1"/>
<line x1="539.5" y1="472.16" x2="684.3" y2="472.16" stroke="rgba(228,228,228,0.6)" stroke-width="1"/>
<line x1="539.5" y1="476.59" x2="684.3" y2="476.59" stroke="rgba(222,222,222,0.85)" stroke-width="1"/>
<line x1="539.5" y1="481.01" x2="684.3" y2="481.01" stroke="rgba(228,228,228,0.6)" stroke-width="1"/>
<line x1="539.5" y1="485.44" x2="684.3" y2="485.44" stroke="rgba(222,222,222,0.85)" stroke-width="1"/>
<line x1="539.5" y1="489.87" x2="684.3" y2="489.87" stroke="rgba(228,228,228,0.6)" stroke-width="1"/>
<line x1="539.5" y1="494.30" x2="684.3" y2="494.30" stroke="rgba(222,222,222,0.85)" stroke-width="1"/>
<line x1="539.5" y1="498.73" x2="684.3" y2="498.73" stroke="rgba(228,228,228,0.6)" stroke-width="1"/>
<line x1="539.5" y1="503.16" x2="684.3" y2="503.16" stroke="rgba(222,222,222,0.85)" stroke-width="1"/>
<line x1="539.5" y1="507.58" x2="684.3" y2="507.58" stroke="rgba(228,228,228,0.6)" stroke-width="1"/>
<line x1="539.5" y1="512.01" x2="684.3" y2="512.01" stroke="rgba(222,222,222,0.85)" stroke-width="1"/>
<line x1="539.5" y1="516.44" x2="684.3" y2="516.44" stroke="rgba(228,228,228,0.6)" stroke-width="1"/>
<line x1="539.5" y1="525.30" x2="684.3" y2="525.30" stroke="rgba(228,228,228,0.6)" stroke-width="1"/>
<line x1="539.5" y1="529.73" x2="684.3" y2="529.73" stroke="rgba(222,222,222,0.85)" stroke-width="1"/>
<line x1="539.5" y1="534.16" x2="684.3" y2="534.16" stroke="rgba(228,228,228,0.6)" stroke-width="1"/>
<line x1="539.5" y1="538.58" x2="684.3" y2="538.58" stroke="rgba(222,222,222,0.85)" stroke-width="1"/>
<line x1="539.5" y1="543.01" x2="684.3" y2="543.01" stroke="rgba(228,228,228,0.6)" stroke-width="1"/>
<line x1="539.5" y1="547.44" x2="684.3" y2="547.44" stroke="rgba(222,222,222,0.85)" stroke-width="1"/>
<line x1="539.5" y1="551.87" x2="684.3" y2="551.87" stroke="rgba(228,228,228,0.6)" stroke-width="1"/>
<line x1="539.5" y1="556.30" x2="684.3" y2="556.30" stroke="rgba(222,222,222,0.85)" stroke-width="1"/>
<line x1="539.5" y1="560.73" x2="684.3" y2="560.73" stroke="rgba(228,228,228,0.6)" stroke-width="1"/>
<line x1="539.5" y1="565.15" x2="684.3" y2="565.15" stroke="rgba(222,222,222,0.85)" stroke-width="1"/>
<line x1="539.5" y1="569.58" x2="684.3" y2="569.58" stroke="rgba(228,228,228,0.6)" stroke-width="1"/>
<line x1="539.5" y1="574.01" x2="684.3" y2="574.01" stroke="rgba(222,222,222,0.85)" stroke-width="1"/>
<line x1="539.5" y1="578.44" x2="684.3" y2="578.44" stroke="rgba(228,228,228,0.6)" stroke-width="1"/>
<line x1="539.5" y1="582.87" x2="684.3" y2="582.87" stroke="rgba(222,222,222,0.85)" stroke-width="1"/>
<line x1="539.5" y1="587.30" x2="684.3" y2="587.30" stroke="rgba(228,228,228,0.6)" stroke-width="1"/>
<line x1="539.5" y1="591.73" x2="684.3" y2="591.73" stroke="rgba(222,222,222,0.85)" stroke-width="1"/>
<line x1="539.5" y1="596.15" x2="684.3" y2="596.15" stroke="rgba(228,228,228,0.6)" stroke-width="1"/>
<line x1="539.5" y1="600.58" x2="684.3" y2="600.58" stroke="rgba(222,222,222,0.85)" stroke-width="1"/>
<line x1="539.5" y1="605.01" x2="684.3" y2="605.01" stroke="rgba(228,228,228,0.6)" stroke-width="1"/>
<line x1="539.5" y1="613.87" x2="684.3" y2="613.87" stroke="rgba(228,228,228,0.6)" stroke-width="1"/>
<line x1="539.5" y1="618.30" x2="684.3" y2="618.30" stroke="rgba(222,222,222,0.85)" stroke-width="1"/>
<line x1="539.5" y1="622.73" x2="684.3" y2="622.73" stroke="rgba(228,228,228,0.6)" stroke-width="1"/>
<line x1="539.5" y1="627.15" x2="684.3" y2="627.15" stroke="rgba(222,222,222,0.85)" stroke-width="1"/>
<line x1="539.5" y1="631.58" x2="684.3" y2="631.58" stroke="rgba(228,228,228,0.6)" stroke-width="1"/>
<line x1="539.5" y1="636.01" x2="684.3" y2="636.01" stroke="rgba(222,222,222,0.85)" stroke-width="1"/>
<line x1="539.5" y1="640.44" x2="684.3" y2="640.44" stroke="rgba(228,228,228,0.6)" stroke-width="1"/>
<line x1="539.5" y1="644.87" x2="684.3" y2="644.87" stroke="rgba(222,222,222,0.85)" stroke-width="1"/>
<line x1="539.5" y1="649.30" x2="684.3" y2="649.30" stroke="rgba(228,228,228,0.6)" stroke-width="1"/>
<line x1="539.5" y1="653.73" x2="684.3" y2="653.73" stroke="rgba(222,222,222,0.85)" stroke-width="1"/>
<line x1="539.5" y1="658.15" x2="684.3" y2="658.15" stroke="rgba(228,228,228,0.6)" stroke-width="1"/>
<line x1="539.5" y1="662.58" x2="684.3" y2="662.58" stroke="rgba(222,222,222,0.85)" stroke-width="1"/>
<line x1="539.5" y1="667.01" x2="684.3" y2="667.01" stroke="rgba(228,228,228,0.6)" stroke-width="1"/>
<line x1="539.5" y1="671.44" x2="684.3" y2="671.44" stroke="rgba(222,222,222,0.85)" stroke-width="1"/>
<line x1="539.5" y1="675.87" x2="684.3" y2="675.87" stroke="rgba(228,228,228,0.6)" stroke-width="1"/>
<line x1="539.5" y1="680.30" x2="684.3" y2="680.30" stroke="rgba(222,222,222,0.85)" stroke-width="1"/>
<line x1="539.5" y1="684.72" x2="684.3" y2="684.72" stroke="rgba(228,228,228,0.6)" stroke-width="1"/>
<line x1="539.5" y1="689.15" x2="684.3" y2="689.15" stroke="rgba(222,222,222,0.85)" stroke-width="1"/>
<line x1="539.5" y1="693.58" x2="684.3" y2="693.58" stroke="rgba(228,228,228,0.6)" stroke-width="1"/>
<line x1="539.5" y1="702.44" x2="684.3" y2="702.44" stroke="rgba(228,228,228,0.6)" stroke-width="1"/>
<line x1="539.5" y1="706.87" x2="684.3" y2="706.87" stroke="rgba(222,222,222,0.85)" stroke-width="1"/>
<line x1="539.5" y1="711.30" x2="684.3" y2="711.30" stroke="rgba(228,228,228,0.6)" stroke-width="1"/>
<line x1="539.5" y1="715.72" x2="684.3" y2="715.72" stroke="rgba(222,222,222,0.85)" stroke-width="1"/>
<line x1="539.5" y1="720.15" x2="684.3" y2="720.15" stroke="rgba(228,228,228,0.6)" stroke-width="1"/>
<line x1="539.5" y1="724.58" x2="684.3" y2="724.58" stroke="rgba(222,222,222,0.85)" stroke-width="1"/>
<line x1="539.5" y1="729.01" x2="684.3" y2="729.01" stroke="rgba(228,228,228,0.6)" stroke-width="1"/>
<line x1="539.5" y1="733.44" x2="684.3" y2="733.44" stroke="rgba(222,222,222,0.85)" stroke-width="1"/>
<line x1="539.5" y1="737.87" x2="684.3" y2="737.87" stroke="rgba(228,228,228,0.6)" stroke-width="1"/>
<line x1="539.5" y1="742.30" x2="684.3" y2="742.30" stroke="rgba(222,222,222,0.85)" stroke-width="1"/>
<line x1="539.5" y1="746.72" x2="684.3" y2="746.72" stroke="rgba(228,228,228,0.6)" stroke-width="1"/>
<line x1="539.5" y1="751.15" x2="684.3" y2="751.15" stroke="rgba(222,222,222,0.85)" stroke-width="1"/>
<line x1="539.5" y1="755.58" x2="684.3" y2="755.58" stroke="rgba(228,228,228,0.6)" stroke-width="1"/>
<line x1="539.5" y1="760.01" x2="684.3" y2="760.01" stroke="rgba(222,222,222,0.85)" stroke-width="1"/>
<line x1="539.5" y1="764.44" x2="684.3" y2="764.44" stroke="rgba(228,228,228,0.6)" stroke-width="1"/>
<line x1="539.5" y1="768.87" x2="684.3" y2="768.87" stroke="rgba(222,222,222,0.85)" stroke-width="1"/>
<line x1="539.5" y1="773.29" x2="684.3" y2="773.29" stroke="rgba(228,228,228,0.6)" stroke-width="1"/>
<line x1="539.5" y1="777.72" x2="684.3" y2="777.72" stroke="rgba(222,222,222,0.85)" stroke-width="1"/>
<line x1="539.5" y1="782.15" x2="684.3" y2="782.15" stroke="rgba(228,228,228,0.6)" stroke-width="1"/>
<line x1="539.5" y1="791.01" x2="684.3" y2="791.01" stroke="rgba(228,228,228,0.6)" stroke-width="1"/>
<line x1="539.5" y1="795.44" x2="684.3" y2="795.44" stroke="rgba(222,222,222,0.85)" stroke-width="1"/>
<line x1="539.5" y1="799.87" x2="684.3" y2="799.87" stroke="rgba(228,228,228,0.6)" stroke-width="1"/>
<line x1="539.5" y1="804.29" x2="684.3" y2="804.29" stroke="rgba(222,222,222,0.85)" stroke-width="1"/>
<line x1="539.5" y1="808.72" x2="684.3" y2="808.72" stroke="rgba(228,228,228,0.6)" stroke-width="1"/>
<line x1="539.5" y1="813.15" x2="684.3" y2="813.15" stroke="rgba(222,222,222,0.85)" stroke-width="1"/>
<line x1="539.5" y1="817.58" x2="684.3" y2="817.58" stroke="rgba(228,228,228,0.6)" stroke-width="1"/>
<line x1="539.5" y1="822.01" x2="684.3" y2="822.01" stroke="rgba(222,222,222,0.85)" stroke-width="1"/>
<line x1="539.5" y1="826.44" x2="684.3" y2="826.44" stroke="rgba(228,228,228,0.6)" stroke-width="1"/>
<line x1="539.5" y1="830.87" x2="684.3" y2="830.87" stroke="rgba(222,222,222,0.85)" stroke-width="1"/>
<line x1="539.5" y1="835.29" x2="684.3" y2="835.29" stroke="rgba(228,228,228,0.6)" stroke-width="1"/>
<line x1="539.5" y1="839.72" x2="684.3" y2="839.72" stroke="rgba(222,222,222,0.85)" stroke-width="1"/>
<line x1="539.5" y1="844.15" x2="684.3" y2="844.15" stroke="rgba(228,228,228,0.6)" stroke-width="1"/>
<line x1="539.5" y1="848.58" x2="684.3" y2="848.58" stroke="rgba(222,222,222,0.85)" stroke-width="1"/>
<line x1="539.5" y1="853.01" x2="684.3" y2="853.01" stroke="rgba(228,228,228,0.6)" stroke-width="1"/>
<line x1="539.5" y1="857.44" x2="684.3" y2="857.44" stroke="rgba(222,222,222,0.85)" stroke-width="1"/>
<line x1="539.5" y1="861.86" x2="684.3" y2="861.86" stroke="rgba(228,228,228,0.6)" stroke-width="1"/>
<line x1="539.5" y1="866.29" x2="684.3" y2="866.29" stroke="rgba(222,222,222,0.85)" stroke-width="1"/>
<line x1="539.5" y1="870.72" x2="684.3" y2="870.72" stroke="rgba(228,228,228,0.6)" stroke-width="1"/>
<line x1="539.5" y1="879.58" x2="684.3" y2="879.58" stroke="rgba(228,228,228,0.6)" stroke-width="1"/>
<line x1="539.5" y1="884.01" x2="684.3" y2="884.01" stroke="rgba(222,222,222,0.85)" stroke-width="1"/>
<line x1="539.5" y1="888.44" x2="684.3" y2="888.44" stroke="rgba(228,228,228,0.6)" stroke-width="1"/>
<line x1="539.5" y1="892.86" x2="684.3" y2="892.86" stroke="rgba(222,222,222,0.85)" stroke-width="1"/>
<line x1="539.5" y1="897.29" x2="684.3" y2="897.29" stroke="rgba(228,228,228,0.6)" stroke-width="1"/>
<line x1="539.5" y1="901.72" x2="684.3" y2="901.72" stroke="rgba(222,222,222,0.85)" stroke-width="1"/>
<line x1="539.5" y1="906.15" x2="684.3" y2="906.15" stroke="rgba(228,228,228,0.6)" stroke-width="1"/>
<line x1="539.5" y1="910.58" x2="684.3" y2="910.58" stroke="rgba(222,222,222,0.85)" stroke-width="1"/>
<line x1="539.5" y1="915.01" x2="684.3" y2="915.01" stroke="rgba(228,228,228,0.6)" stroke-width="1"/>
<line x1="539.5" y1="919.44" x2="684.3" y2="919.44" stroke="rgba(222,222,222,0.85)" stroke-width="1"/>
<line x1="539.5" y1="923.86" x2="684.3" y2="923.86" stroke="rgba(228,228,228,0.6)" stroke-width="1"/>
<line x1="539.5" y1="928.29" x2="684.3" y2="928.29" stroke="rgba(222,222,222,0.85)" stroke-width="1"/>
<line x1="539.5" y1="932.72" x2="684.3" y2="932.72" stroke="rgba(228,228,228,0.6)" stroke-width="1"/>
<line x1="539.5" y1="937.15" x2="684.3" y2="937.15" stroke="rgba(222,222,222,0.85)" stroke-width="1"/>
<line x1="539.5" y1="941.58" x2="684.3" y2="941.58" stroke="rgba(228,228,228,0.6)" stroke-width="1"/>
<line x1="539.5" y1="946.01" x2="684.3" y2="946.01" stroke="rgba(222,222,222,0.85)" stroke-width="1"/>
<line x1="539.5" y1="950.43" x2="684.3" y2="950.43" stroke="rgba(228,228,228,0.6)" stroke-width="1"/>
<line x1="539.5" y1="954.86" x2="684.3" y2="954.86" stroke="rgba(222,222,222,0.85)" stroke-width="1"/>
<line x1="539.5" y1="959.29" x2="684.3" y2="959.29" stroke="rgba(228,228,228,0.6)" stroke-width="1"/>
<line x1="539.5" y1="968.15" x2="684.3" y2="968.15" stroke="rgba(228,228,228,0.6)" stroke-width="1"/>
<line x1="539.5" y1="972.58" x2="684.3" y2="972.58" stroke="rgba(222,222,222,0.85)" stroke-width="1"/>
<line x1="539.5" y1="977.01" x2="684.3" y2="977.01" stroke="rgba(228,228,228,0.6)" stroke-width="1"/>
<line x1="539.5" y1="981.43" x2="684.3" y2="981.43" stroke="rgba(222,222,222,0.85)" stroke-width="1"/>
<line x1="539.5" y1="985.86" x2="684.3" y2="985.86" stroke="rgba(228,228,228,0.6)" stroke-width="1"/>
<line x1="539.5" y1="990.29" x2="684.3" y2="990.29" stroke="rgba(222,222,222,0.85)" stroke-width="1"/>
<line x1="539.5" y1="994.72" x2="684.3" y2="994.72" stroke="rgba(228,228,228,0.6)" stroke-width="1"/>
<line x1="539.5" y1="999.15" x2="684.3" y2="999.15" stroke="rgba(222,222,222,0.85)" stroke-width="1"/>
<line x1="327.40" y1="343.5" x2="327.40" y2="1003.0" stroke="rgba(150,150,150,0.6)" stroke-width="1"/>
<line x1="349.40" y1="343.5" x2="349.40" y2="1003.0" stroke="rgba(150,150,150,0.6)" stroke-width="1"/>
<line x1="371.40" y1="343.5" x2="371.40" y2="1003.0" stroke="rgba(150,150,150,0.6)" stroke-width="1"/>
<line x1="393.40" y1="343.5" x2="393.40" y2="1003.0" stroke="rgba(150,150,150,0.6)" stroke-width="1"/>
<line x1="415.40" y1="343.5" x2="415.40" y2="1003.0" stroke="rgba(150,150,150,0.6)" stroke-width="1"/>
<line x1="457.82" y1="343.5" x2="457.82" y2="1003.0" stroke="rgba(150,150,150,0.65)" stroke-width="1"/>
<line x1="478.24" y1="343.5" x2="478.24" y2="1003.0" stroke="rgba(150,150,150,0.65)" stroke-width="1"/>
<line x1="498.66" y1="343.5" x2="498.66" y2="1003.0" stroke="rgba(150,150,150,0.65)" stroke-width="1"/>
<line x1="519.08" y1="343.5" x2="519.08" y2="1003.0" stroke="rgba(150,150,150,0.65)" stroke-width="1"/>
<line x1="568.60" y1="343.5" x2="568.60" y2="1003.0" stroke="rgba(150,150,150,0.6)" stroke-width="1"/>
<line x1="597.80" y1="343.5" x2="597.80" y2="1003.0" stroke="rgba(150,150,150,0.6)" stroke-width="1"/>
<line x1="627.10" y1="343.5" x2="627.10" y2="1003.0" stroke="rgba(150,150,150,0.6)" stroke-width="1"/>
<line x1="656.40" y1="343.5" x2="656.40" y2="1003.0" stroke="rgba(150,150,150,0.6)" stroke-width="1"/>
<line x1="305.4" y1="432.30" x2="437.4" y2="432.30" stroke="rgba(150,150,150,0.8)" stroke-width="1"/>
<line x1="305.4" y1="520.87" x2="437.4" y2="520.87" stroke="rgba(150,150,150,0.8)" stroke-width="1"/>
<line x1="305.4" y1="609.44" x2="437.4" y2="609.44" stroke="rgba(150,150,150,0.8)" stroke-width="1"/>
<line x1="305.4" y1="698.01" x2="437.4" y2="698.01" stroke="rgba(150,150,150,0.8)" stroke-width="1"/>
<line x1="305.4" y1="786.58" x2="437.4" y2="786.58" stroke="rgba(150,150,150,0.8)" stroke-width="1"/>
<line x1="305.4" y1="875.15" x2="437.4" y2="875.15" stroke="rgba(150,150,150,0.8)" stroke-width="1"/>
<line x1="305.4" y1="963.72" x2="437.4" y2="963.72" stroke="rgba(150,150,150,0.8)" stroke-width="1"/>
<line x1="437.4" y1="432.30" x2="539.5" y2="432.30" stroke="rgba(150,150,150,0.8)" stroke-width="1"/>
<line x1="437.4" y1="520.87" x2="539.5" y2="520.87" stroke="rgba(150,150,150,0.8)" stroke-width="1"/>
<line x1="437.4" y1="609.44" x2="539.5" y2="609.44" stroke="rgba(150,150,150,0.8)" stroke-width="1"/>
<line x1="437.4" y1="698.01" x2="539.5" y2="698.01" stroke="rgba(150,150,150,0.8)" stroke-width="1"/>
<line x1="437.4" y1="786.58" x2="539.5" y2="786.58" stroke="rgba(150,150,150,0.8)" stroke-width="1"/>
<line x1="437.4" y1="875.15" x2="539.5" y2="875.15" stroke="rgba(150,150,150,0.8)" stroke-width="1"/>
<line x1="437.4" y1="963.72" x2="539.5" y2="963.72" stroke="rgba(150,150,150,0.8)" stroke-width="1"/>
<line x1="539.5" y1="432.30" x2="684.3" y2="432.30" stroke="rgba(150,150,150,0.8)" stroke-width="1"/>
<line x1="539.5" y1="520.87" x2="684.3" y2="520.87" stroke="rgba(150,150,150,0.8)" stroke-width="1"/>
<line x1="539.5" y1="609.44" x2="684.3" y2="609.44" stroke="rgba(150,150,150,0.8)" stroke-width="1"/>
<line x1="539.5" y1="698.01" x2="684.3" y2="698.01" stroke="rgba(150,150,150,0.8)" stroke-width="1"/>
<line x1="539.5" y1="786.58" x2="684.3" y2="786.58" stroke="rgba(150,150,150,0.8)" stroke-width="1"/>
<line x1="539.5" y1="875.15" x2="684.3" y2="875.15" stroke="rgba(150,150,150,0.8)" stroke-width="1"/>
<line x1="539.5" y1="963.72" x2="684.3" y2="963.72" stroke="rgba(150,150,150,0.8)" stroke-width="1"/>
<line x1="0" y1="352.59" x2="5.0" y2="352.59" stroke="#2a2a2a" stroke-width="1.1"/>
<line x1="92.5" y1="352.59" x2="97.5" y2="352.59" stroke="#2a2a2a" stroke-width="1.1"/>
<line x1="0" y1="361.44" x2="5.0" y2="361.44" stroke="#2a2a2a" stroke-width="1.1"/>
<line x1="92.5" y1="361.44" x2="97.5" y2="361.44" stroke="#2a2a2a" stroke-width="1.1"/>
<line x1="0" y1="370.30" x2="5.0" y2="370.30" stroke="#2a2a2a" stroke-width="1.1"/>
<line x1="92.5" y1="370.30" x2="97.5" y2="370.30" stroke="#2a2a2a" stroke-width="1.1"/>
<line x1="0" y1="379.16" x2="5.0" y2="379.16" stroke="#2a2a2a" stroke-width="1.1"/>
<line x1="92.5" y1="379.16" x2="97.5" y2="379.16" stroke="#2a2a2a" stroke-width="1.1"/>
<line x1="0" y1="388.01" x2="5.0" y2="388.01" stroke="#2a2a2a" stroke-width="1.1"/>
<line x1="92.5" y1="388.01" x2="97.5" y2="388.01" stroke="#2a2a2a" stroke-width="1.1"/>
<line x1="0" y1="396.87" x2="5.0" y2="396.87" stroke="#2a2a2a" stroke-width="1.1"/>
<line x1="92.5" y1="396.87" x2="97.5" y2="396.87" stroke="#2a2a2a" stroke-width="1.1"/>
<line x1="0" y1="405.73" x2="5.0" y2="405.73" stroke="#2a2a2a" stroke-width="1.1"/>
<line x1="92.5" y1="405.73" x2="97.5" y2="405.73" stroke="#2a2a2a" stroke-width="1.1"/>
<line x1="0" y1="414.59" x2="5.0" y2="414.59" stroke="#2a2a2a" stroke-width="1.1"/>
<line x1="92.5" y1="414.59" x2="97.5" y2="414.59" stroke="#2a2a2a" stroke-width="1.1"/>
<line x1="0" y1="423.44" x2="5.0" y2="423.44" stroke="#2a2a2a" stroke-width="1.1"/>
<line x1="92.5" y1="423.44" x2="97.5" y2="423.44" stroke="#2a2a2a" stroke-width="1.1"/>
<line x1="0" y1="432.30" x2="10.0" y2="432.30" stroke="#2a2a2a" stroke-width="1.1"/>
<line x1="87.5" y1="432.30" x2="97.5" y2="432.30" stroke="#2a2a2a" stroke-width="1.1"/>
<line x1="0" y1="441.16" x2="5.0" y2="441.16" stroke="#2a2a2a" stroke-width="1.1"/>
<line x1="92.5" y1="441.16" x2="97.5" y2="441.16" stroke="#2a2a2a" stroke-width="1.1"/>
<line x1="0" y1="450.01" x2="5.0" y2="450.01" stroke="#2a2a2a" stroke-width="1.1"/>
<line x1="92.5" y1="450.01" x2="97.5" y2="450.01" stroke="#2a2a2a" stroke-width="1.1"/>
<line x1="0" y1="458.87" x2="5.0" y2="458.87" stroke="#2a2a2a" stroke-width="1.1"/>
<line x1="92.5" y1="458.87" x2="97.5" y2="458.87" stroke="#2a2a2a" stroke-width="1.1"/>
<line x1="0" y1="467.73" x2="5.0" y2="467.73" stroke="#2a2a2a" stroke-width="1.1"/>
<line x1="92.5" y1="467.73" x2="97.5" y2="467.73" stroke="#2a2a2a" stroke-width="1.1"/>
<line x1="0" y1="476.59" x2="5.0" y2="476.59" stroke="#2a2a2a" stroke-width="1.1"/>
<line x1="92.5" y1="476.59" x2="97.5" y2="476.59" stroke="#2a2a2a" stroke-width="1.1"/>
<line x1="0" y1="485.44" x2="5.0" y2="485.44" stroke="#2a2a2a" stroke-width="1.1"/>
<line x1="92.5" y1="485.44" x2="97.5" y2="485.44" stroke="#2a2a2a" stroke-width="1.1"/>
<line x1="0" y1="494.30" x2="5.0" y2="494.30" stroke="#2a2a2a" stroke-width="1.1"/>
<line x1="92.5" y1="494.30" x2="97.5" y2="494.30" stroke="#2a2a2a" stroke-width="1.1"/>
<line x1="0" y1="503.16" x2="5.0" y2="503.16" stroke="#2a2a2a" stroke-width="1.1"/>
<line x1="92.5" y1="503.16" x2="97.5" y2="503.16" stroke="#2a2a2a" stroke-width="1.1"/>
<line x1="0" y1="512.01" x2="5.0" y2="512.01" stroke="#2a2a2a" stroke-width="1.1"/>
<line x1="92.5" y1="512.01" x2="97.5" y2="512.01" stroke="#2a2a2a" stroke-width="1.1"/>
<line x1="0" y1="520.87" x2="10.0" y2="520.87" stroke="#2a2a2a" stroke-width="1.1"/>
<line x1="87.5" y1="520.87" x2="97.5" y2="520.87" stroke="#2a2a2a" stroke-width="1.1"/>
<line x1="0" y1="529.73" x2="5.0" y2="529.73" stroke="#2a2a2a" stroke-width="1.1"/>
<line x1="92.5" y1="529.73" x2="97.5" y2="529.73" stroke="#2a2a2a" stroke-width="1.1"/>
<line x1="0" y1="538.58" x2="5.0" y2="538.58" stroke="#2a2a2a" stroke-width="1.1"/>
<line x1="92.5" y1="538.58" x2="97.5" y2="538.58" stroke="#2a2a2a" stroke-width="1.1"/>
<line x1="0" y1="547.44" x2="5.0" y2="547.44" stroke="#2a2a2a" stroke-width="1.1"/>
<line x1="92.5" y1="547.44" x2="97.5" y2="547.44" stroke="#2a2a2a" stroke-width="1.1"/>
<line x1="0" y1="556.30" x2="5.0" y2="556.30" stroke="#2a2a2a" stroke-width="1.1"/>
<line x1="92.5" y1="556.30" x2="97.5" y2="556.30" stroke="#2a2a2a" stroke-width="1.1"/>
<line x1="0" y1="565.15" x2="5.0" y2="565.15" stroke="#2a2a2a" stroke-width="1.1"/>
<line x1="92.5" y1="565.15" x2="97.5" y2="565.15" stroke="#2a2a2a" stroke-width="1.1"/>
<line x1="0" y1="574.01" x2="5.0" y2="574.01" stroke="#2a2a2a" stroke-width="1.1"/>
<line x1="92.5" y1="574.01" x2="97.5" y2="574.01" stroke="#2a2a2a" stroke-width="1.1"/>
<line x1="0" y1="582.87" x2="5.0" y2="582.87" stroke="#2a2a2a" stroke-width="1.1"/>
<line x1="92.5" y1="582.87" x2="97.5" y2="582.87" stroke="#2a2a2a" stroke-width="1.1"/>
<line x1="0" y1="591.73" x2="5.0" y2="591.73" stroke="#2a2a2a" stroke-width="1.1"/>
<line x1="92.5" y1="591.73" x2="97.5" y2="591.73" stroke="#2a2a2a" stroke-width="1.1"/>
<line x1="0" y1="600.58" x2="5.0" y2="600.58" stroke="#2a2a2a" stroke-width="1.1"/>
<line x1="92.5" y1="600.58" x2="97.5" y2="600.58" stroke="#2a2a2a" stroke-width="1.1"/>
<line x1="0" y1="609.44" x2="10.0" y2="609.44" stroke="#2a2a2a" stroke-width="1.1"/>
<line x1="87.5" y1="609.44" x2="97.5" y2="609.44" stroke="#2a2a2a" stroke-width="1.1"/>
<line x1="0" y1="618.30" x2="5.0" y2="618.30" stroke="#2a2a2a" stroke-width="1.1"/>
<line x1="92.5" y1="618.30" x2="97.5" y2="618.30" stroke="#2a2a2a" stroke-width="1.1"/>
<line x1="0" y1="627.15" x2="5.0" y2="627.15" stroke="#2a2a2a" stroke-width="1.1"/>
<line x1="92.5" y1="627.15" x2="97.5" y2="627.15" stroke="#2a2a2a" stroke-width="1.1"/>
<line x1="0" y1="636.01" x2="5.0" y2="636.01" stroke="#2a2a2a" stroke-width="1.1"/>
<line x1="92.5" y1="636.01" x2="97.5" y2="636.01" stroke="#2a2a2a" stroke-width="1.1"/>
<line x1="0" y1="644.87" x2="5.0" y2="644.87" stroke="#2a2a2a" stroke-width="1.1"/>
<line x1="92.5" y1="644.87" x2="97.5" y2="644.87" stroke="#2a2a2a" stroke-width="1.1"/>
<line x1="0" y1="653.73" x2="5.0" y2="653.73" stroke="#2a2a2a" stroke-width="1.1"/>
<line x1="92.5" y1="653.73" x2="97.5" y2="653.73" stroke="#2a2a2a" stroke-width="1.1"/>
<line x1="0" y1="662.58" x2="5.0" y2="662.58" stroke="#2a2a2a" stroke-width="1.1"/>
<line x1="92.5" y1="662.58" x2="97.5" y2="662.58" stroke="#2a2a2a" stroke-width="1.1"/>
<line x1="0" y1="671.44" x2="5.0" y2="671.44" stroke="#2a2a2a" stroke-width="1.1"/>
<line x1="92.5" y1="671.44" x2="97.5" y2="671.44" stroke="#2a2a2a" stroke-width="1.1"/>
<line x1="0" y1="680.30" x2="5.0" y2="680.30" stroke="#2a2a2a" stroke-width="1.1"/>
<line x1="92.5" y1="680.30" x2="97.5" y2="680.30" stroke="#2a2a2a" stroke-width="1.1"/>
<line x1="0" y1="689.15" x2="5.0" y2="689.15" stroke="#2a2a2a" stroke-width="1.1"/>
<line x1="92.5" y1="689.15" x2="97.5" y2="689.15" stroke="#2a2a2a" stroke-width="1.1"/>
<line x1="0" y1="698.01" x2="10.0" y2="698.01" stroke="#2a2a2a" stroke-width="1.1"/>
<line x1="87.5" y1="698.01" x2="97.5" y2="698.01" stroke="#2a2a2a" stroke-width="1.1"/>
<line x1="0" y1="706.87" x2="5.0" y2="706.87" stroke="#2a2a2a" stroke-width="1.1"/>
<line x1="92.5" y1="706.87" x2="97.5" y2="706.87" stroke="#2a2a2a" stroke-width="1.1"/>
<line x1="0" y1="715.72" x2="5.0" y2="715.72" stroke="#2a2a2a" stroke-width="1.1"/>
<line x1="92.5" y1="715.72" x2="97.5" y2="715.72" stroke="#2a2a2a" stroke-width="1.1"/>
<line x1="0" y1="724.58" x2="5.0" y2="724.58" stroke="#2a2a2a" stroke-width="1.1"/>
<line x1="92.5" y1="724.58" x2="97.5" y2="724.58" stroke="#2a2a2a" stroke-width="1.1"/>
<line x1="0" y1="733.44" x2="5.0" y2="733.44" stroke="#2a2a2a" stroke-width="1.1"/>
<line x1="92.5" y1="733.44" x2="97.5" y2="733.44" stroke="#2a2a2a" stroke-width="1.1"/>
<line x1="0" y1="742.30" x2="5.0" y2="742.30" stroke="#2a2a2a" stroke-width="1.1"/>
<line x1="92.5" y1="742.30" x2="97.5" y2="742.30" stroke="#2a2a2a" stroke-width="1.1"/>
<line x1="0" y1="751.15" x2="5.0" y2="751.15" stroke="#2a2a2a" stroke-width="1.1"/>
<line x1="92.5" y1="751.15" x2="97.5" y2="751.15" stroke="#2a2a2a" stroke-width="1.1"/>
<line x1="0" y1="760.01" x2="5.0" y2="760.01" stroke="#2a2a2a" stroke-width="1.1"/>
<line x1="92.5" y1="760.01" x2="97.5" y2="760.01" stroke="#2a2a2a" stroke-width="1.1"/>
<line x1="0" y1="768.87" x2="5.0" y2="768.87" stroke="#2a2a2a" stroke-width="1.1"/>
<line x1="92.5" y1="768.87" x2="97.5" y2="768.87" stroke="#2a2a2a" stroke-width="1.1"/>
<line x1="0" y1="777.72" x2="5.0" y2="777.72" stroke="#2a2a2a" stroke-width="1.1"/>
<line x1="92.5" y1="777.72" x2="97.5" y2="777.72" stroke="#2a2a2a" stroke-width="1.1"/>
<line x1="0" y1="786.58" x2="10.0" y2="786.58" stroke="#2a2a2a" stroke-width="1.1"/>
<line x1="87.5" y1="786.58" x2="97.5" y2="786.58" stroke="#2a2a2a" stroke-width="1.1"/>
<line x1="0" y1="795.44" x2="5.0" y2="795.44" stroke="#2a2a2a" stroke-width="1.1"/>
<line x1="92.5" y1="795.44" x2="97.5" y2="795.44" stroke="#2a2a2a" stroke-width="1.1"/>
<line x1="0" y1="804.29" x2="5.0" y2="804.29" stroke="#2a2a2a" stroke-width="1.1"/>
<line x1="92.5" y1="804.29" x2="97.5" y2="804.29" stroke="#2a2a2a" stroke-width="1.1"/>
<line x1="0" y1="813.15" x2="5.0" y2="813.15" stroke="#2a2a2a" stroke-width="1.1"/>
<line x1="92.5" y1="813.15" x2="97.5" y2="813.15" stroke="#2a2a2a" stroke-width="1.1"/>
<line x1="0" y1="822.01" x2="5.0" y2="822.01" stroke="#2a2a2a" stroke-width="1.1"/>
<line x1="92.5" y1="822.01" x2="97.5" y2="822.01" stroke="#2a2a2a" stroke-width="1.1"/>
<line x1="0" y1="830.87" x2="5.0" y2="830.87" stroke="#2a2a2a" stroke-width="1.1"/>
<line x1="92.5" y1="830.87" x2="97.5" y2="830.87" stroke="#2a2a2a" stroke-width="1.1"/>
<line x1="0" y1="839.72" x2="5.0" y2="839.72" stroke="#2a2a2a" stroke-width="1.1"/>
<line x1="92.5" y1="839.72" x2="97.5" y2="839.72" stroke="#2a2a2a" stroke-width="1.1"/>
<line x1="0" y1="848.58" x2="5.0" y2="848.58" stroke="#2a2a2a" stroke-width="1.1"/>
<line x1="92.5" y1="848.58" x2="97.5" y2="848.58" stroke="#2a2a2a" stroke-width="1.1"/>
<line x1="0" y1="857.44" x2="5.0" y2="857.44" stroke="#2a2a2a" stroke-width="1.1"/>
<line x1="92.5" y1="857.44" x2="97.5" y2="857.44" stroke="#2a2a2a" stroke-width="1.1"/>
<line x1="0" y1="866.29" x2="5.0" y2="866.29" stroke="#2a2a2a" stroke-width="1.1"/>
<line x1="92.5" y1="866.29" x2="97.5" y2="866.29" stroke="#2a2a2a" stroke-width="1.1"/>
<line x1="0" y1="875.15" x2="10.0" y2="875.15" stroke="#2a2a2a" stroke-width="1.1"/>
<line x1="87.5" y1="875.15" x2="97.5" y2="875.15" stroke="#2a2a2a" stroke-width="1.1"/>
<line x1="0" y1="884.01" x2="5.0" y2="884.01" stroke="#2a2a2a" stroke-width="1.1"/>
<line x1="92.5" y1="884.01" x2="97.5" y2="884.01" stroke="#2a2a2a" stroke-width="1.1"/>
<line x1="0" y1="892.86" x2="5.0" y2="892.86" stroke="#2a2a2a" stroke-width="1.1"/>
<line x1="92.5" y1="892.86" x2="97.5" y2="892.86" stroke="#2a2a2a" stroke-width="1.1"/>
<line x1="0" y1="901.72" x2="5.0" y2="901.72" stroke="#2a2a2a" stroke-width="1.1"/>
<line x1="92.5" y1="901.72" x2="97.5" y2="901.72" stroke="#2a2a2a" stroke-width="1.1"/>
<line x1="0" y1="910.58" x2="5.0" y2="910.58" stroke="#2a2a2a" stroke-width="1.1"/>
<line x1="92.5" y1="910.58" x2="97.5" y2="910.58" stroke="#2a2a2a" stroke-width="1.1"/>
<line x1="0" y1="919.44" x2="5.0" y2="919.44" stroke="#2a2a2a" stroke-width="1.1"/>
<line x1="92.5" y1="919.44" x2="97.5" y2="919.44" stroke="#2a2a2a" stroke-width="1.1"/>
<line x1="0" y1="928.29" x2="5.0" y2="928.29" stroke="#2a2a2a" stroke-width="1.1"/>
<line x1="92.5" y1="928.29" x2="97.5" y2="928.29" stroke="#2a2a2a" stroke-width="1.1"/>
<line x1="0" y1="937.15" x2="5.0" y2="937.15" stroke="#2a2a2a" stroke-width="1.1"/>
<line x1="92.5" y1="937.15" x2="97.5" y2="937.15" stroke="#2a2a2a" stroke-width="1.1"/>
<line x1="0" y1="946.01" x2="5.0" y2="946.01" stroke="#2a2a2a" stroke-width="1.1"/>
<line x1="92.5" y1="946.01" x2="97.5" y2="946.01" stroke="#2a2a2a" stroke-width="1.1"/>
<line x1="0" y1="954.86" x2="5.0" y2="954.86" stroke="#2a2a2a" stroke-width="1.1"/>
<line x1="92.5" y1="954.86" x2="97.5" y2="954.86" stroke="#2a2a2a" stroke-width="1.1"/>
<line x1="0" y1="963.72" x2="10.0" y2="963.72" stroke="#2a2a2a" stroke-width="1.1"/>
<line x1="87.5" y1="963.72" x2="97.5" y2="963.72" stroke="#2a2a2a" stroke-width="1.1"/>
<line x1="0" y1="972.58" x2="5.0" y2="972.58" stroke="#2a2a2a" stroke-width="1.1"/>
<line x1="92.5" y1="972.58" x2="97.5" y2="972.58" stroke="#2a2a2a" stroke-width="1.1"/>
<line x1="0" y1="981.43" x2="5.0" y2="981.43" stroke="#2a2a2a" stroke-width="1.1"/>
<line x1="92.5" y1="981.43" x2="97.5" y2="981.43" stroke="#2a2a2a" stroke-width="1.1"/>
<line x1="0" y1="990.29" x2="5.0" y2="990.29" stroke="#2a2a2a" stroke-width="1.1"/>
<line x1="92.5" y1="990.29" x2="97.5" y2="990.29" stroke="#2a2a2a" stroke-width="1.1"/>
<line x1="0" y1="999.15" x2="5.0" y2="999.15" stroke="#2a2a2a" stroke-width="1.1"/>
<line x1="92.5" y1="999.15" x2="97.5" y2="999.15" stroke="#2a2a2a" stroke-width="1.1"/>
<line x1="97.5" y1="350.10" x2="104.5" y2="350.10" stroke="#2a2a2a" stroke-width="1.1"/>
<line x1="222.5" y1="350.10" x2="229.5" y2="350.10" stroke="#2a2a2a" stroke-width="1.1"/>
<line x1="97.5" y1="357.25" x2="104.5" y2="357.25" stroke="#2a2a2a" stroke-width="1.1"/>
<line x1="222.5" y1="357.25" x2="229.5" y2="357.25" stroke="#2a2a2a" stroke-width="1.1"/>
<line x1="97.5" y1="364.40" x2="111.0" y2="364.40" stroke="#2a2a2a" stroke-width="1.1"/>
<line x1="216.0" y1="364.40" x2="229.5" y2="364.40" stroke="#2a2a2a" stroke-width="1.1"/>
<line x1="97.5" y1="371.55" x2="104.5" y2="371.55" stroke="#2a2a2a" stroke-width="1.1"/>
<line x1="222.5" y1="371.55" x2="229.5" y2="371.55" stroke="#2a2a2a" stroke-width="1.1"/>
<line x1="97.5" y1="378.70" x2="104.5" y2="378.70" stroke="#2a2a2a" stroke-width="1.1"/>
<line x1="222.5" y1="378.70" x2="229.5" y2="378.70" stroke="#2a2a2a" stroke-width="1.1"/>
<line x1="97.5" y1="385.85" x2="104.5" y2="385.85" stroke="#2a2a2a" stroke-width="1.1"/>
<line x1="222.5" y1="385.85" x2="229.5" y2="385.85" stroke="#2a2a2a" stroke-width="1.1"/>
<line x1="97.5" y1="393.00" x2="104.5" y2="393.00" stroke="#2a2a2a" stroke-width="1.1"/>
<line x1="222.5" y1="393.00" x2="229.5" y2="393.00" stroke="#2a2a2a" stroke-width="1.1"/>
<line x1="97.5" y1="400.15" x2="104.5" y2="400.15" stroke="#2a2a2a" stroke-width="1.1"/>
<line x1="222.5" y1="400.15" x2="229.5" y2="400.15" stroke="#2a2a2a" stroke-width="1.1"/>
<line x1="97.5" y1="407.30" x2="104.5" y2="407.30" stroke="#2a2a2a" stroke-width="1.1"/>
<line x1="222.5" y1="407.30" x2="229.5" y2="407.30" stroke="#2a2a2a" stroke-width="1.1"/>
<line x1="97.5" y1="414.45" x2="104.5" y2="414.45" stroke="#2a2a2a" stroke-width="1.1"/>
<line x1="222.5" y1="414.45" x2="229.5" y2="414.45" stroke="#2a2a2a" stroke-width="1.1"/>
<line x1="97.5" y1="421.60" x2="104.5" y2="421.60" stroke="#2a2a2a" stroke-width="1.1"/>
<line x1="222.5" y1="421.60" x2="229.5" y2="421.60" stroke="#2a2a2a" stroke-width="1.1"/>
<line x1="97.5" y1="428.75" x2="104.5" y2="428.75" stroke="#2a2a2a" stroke-width="1.1"/>
<line x1="222.5" y1="428.75" x2="229.5" y2="428.75" stroke="#2a2a2a" stroke-width="1.1"/>
<line x1="97.5" y1="435.90" x2="111.0" y2="435.90" stroke="#2a2a2a" stroke-width="1.1"/>
<line x1="216.0" y1="435.90" x2="229.5" y2="435.90" stroke="#2a2a2a" stroke-width="1.1"/>
<line x1="97.5" y1="443.02" x2="104.5" y2="443.02" stroke="#2a2a2a" stroke-width="1.1"/>
<line x1="222.5" y1="443.02" x2="229.5" y2="443.02" stroke="#2a2a2a" stroke-width="1.1"/>
<line x1="97.5" y1="450.14" x2="104.5" y2="450.14" stroke="#2a2a2a" stroke-width="1.1"/>
<line x1="222.5" y1="450.14" x2="229.5" y2="450.14" stroke="#2a2a2a" stroke-width="1.1"/>
<line x1="97.5" y1="457.26" x2="104.5" y2="457.26" stroke="#2a2a2a" stroke-width="1.1"/>
<line x1="222.5" y1="457.26" x2="229.5" y2="457.26" stroke="#2a2a2a" stroke-width="1.1"/>
<line x1="97.5" y1="464.38" x2="104.5" y2="464.38" stroke="#2a2a2a" stroke-width="1.1"/>
<line x1="222.5" y1="464.38" x2="229.5" y2="464.38" stroke="#2a2a2a" stroke-width="1.1"/>
<line x1="97.5" y1="471.50" x2="104.5" y2="471.50" stroke="#2a2a2a" stroke-width="1.1"/>
<line x1="222.5" y1="471.50" x2="229.5" y2="471.50" stroke="#2a2a2a" stroke-width="1.1"/>
<line x1="97.5" y1="478.62" x2="104.5" y2="478.62" stroke="#2a2a2a" stroke-width="1.1"/>
<line x1="222.5" y1="478.62" x2="229.5" y2="478.62" stroke="#2a2a2a" stroke-width="1.1"/>
<line x1="97.5" y1="485.74" x2="104.5" y2="485.74" stroke="#2a2a2a" stroke-width="1.1"/>
<line x1="222.5" y1="485.74" x2="229.5" y2="485.74" stroke="#2a2a2a" stroke-width="1.1"/>
<line x1="97.5" y1="492.86" x2="104.5" y2="492.86" stroke="#2a2a2a" stroke-width="1.1"/>
<line x1="222.5" y1="492.86" x2="229.5" y2="492.86" stroke="#2a2a2a" stroke-width="1.1"/>
<line x1="97.5" y1="499.98" x2="104.5" y2="499.98" stroke="#2a2a2a" stroke-width="1.1"/>
<line x1="222.5" y1="499.98" x2="229.5" y2="499.98" stroke="#2a2a2a" stroke-width="1.1"/>
<line x1="97.5" y1="507.10" x2="111.0" y2="507.10" stroke="#2a2a2a" stroke-width="1.1"/>
<line x1="216.0" y1="507.10" x2="229.5" y2="507.10" stroke="#2a2a2a" stroke-width="1.1"/>
<line x1="97.5" y1="514.27" x2="104.5" y2="514.27" stroke="#2a2a2a" stroke-width="1.1"/>
<line x1="222.5" y1="514.27" x2="229.5" y2="514.27" stroke="#2a2a2a" stroke-width="1.1"/>
<line x1="97.5" y1="521.44" x2="104.5" y2="521.44" stroke="#2a2a2a" stroke-width="1.1"/>
<line x1="222.5" y1="521.44" x2="229.5" y2="521.44" stroke="#2a2a2a" stroke-width="1.1"/>
<line x1="97.5" y1="528.61" x2="104.5" y2="528.61" stroke="#2a2a2a" stroke-width="1.1"/>
<line x1="222.5" y1="528.61" x2="229.5" y2="528.61" stroke="#2a2a2a" stroke-width="1.1"/>
<line x1="97.5" y1="535.78" x2="104.5" y2="535.78" stroke="#2a2a2a" stroke-width="1.1"/>
<line x1="222.5" y1="535.78" x2="229.5" y2="535.78" stroke="#2a2a2a" stroke-width="1.1"/>
<line x1="97.5" y1="542.95" x2="104.5" y2="542.95" stroke="#2a2a2a" stroke-width="1.1"/>
<line x1="222.5" y1="542.95" x2="229.5" y2="542.95" stroke="#2a2a2a" stroke-width="1.1"/>
<line x1="97.5" y1="550.12" x2="104.5" y2="550.12" stroke="#2a2a2a" stroke-width="1.1"/>
<line x1="222.5" y1="550.12" x2="229.5" y2="550.12" stroke="#2a2a2a" stroke-width="1.1"/>
<line x1="97.5" y1="557.29" x2="104.5" y2="557.29" stroke="#2a2a2a" stroke-width="1.1"/>
<line x1="222.5" y1="557.29" x2="229.5" y2="557.29" stroke="#2a2a2a" stroke-width="1.1"/>
<line x1="97.5" y1="564.46" x2="104.5" y2="564.46" stroke="#2a2a2a" stroke-width="1.1"/>
<line x1="222.5" y1="564.46" x2="229.5" y2="564.46" stroke="#2a2a2a" stroke-width="1.1"/>
<line x1="97.5" y1="571.63" x2="104.5" y2="571.63" stroke="#2a2a2a" stroke-width="1.1"/>
<line x1="222.5" y1="571.63" x2="229.5" y2="571.63" stroke="#2a2a2a" stroke-width="1.1"/>
<line x1="97.5" y1="578.80" x2="111.0" y2="578.80" stroke="#2a2a2a" stroke-width="1.1"/>
<line x1="216.0" y1="578.80" x2="229.5" y2="578.80" stroke="#2a2a2a" stroke-width="1.1"/>
<line x1="97.5" y1="585.98" x2="104.5" y2="585.98" stroke="#2a2a2a" stroke-width="1.1"/>
<line x1="222.5" y1="585.98" x2="229.5" y2="585.98" stroke="#2a2a2a" stroke-width="1.1"/>
<line x1="97.5" y1="593.16" x2="104.5" y2="593.16" stroke="#2a2a2a" stroke-width="1.1"/>
<line x1="222.5" y1="593.16" x2="229.5" y2="593.16" stroke="#2a2a2a" stroke-width="1.1"/>
<line x1="97.5" y1="600.34" x2="104.5" y2="600.34" stroke="#2a2a2a" stroke-width="1.1"/>
<line x1="222.5" y1="600.34" x2="229.5" y2="600.34" stroke="#2a2a2a" stroke-width="1.1"/>
<line x1="97.5" y1="607.52" x2="104.5" y2="607.52" stroke="#2a2a2a" stroke-width="1.1"/>
<line x1="222.5" y1="607.52" x2="229.5" y2="607.52" stroke="#2a2a2a" stroke-width="1.1"/>
<line x1="97.5" y1="614.70" x2="104.5" y2="614.70" stroke="#2a2a2a" stroke-width="1.1"/>
<line x1="222.5" y1="614.70" x2="229.5" y2="614.70" stroke="#2a2a2a" stroke-width="1.1"/>
<line x1="97.5" y1="621.88" x2="104.5" y2="621.88" stroke="#2a2a2a" stroke-width="1.1"/>
<line x1="222.5" y1="621.88" x2="229.5" y2="621.88" stroke="#2a2a2a" stroke-width="1.1"/>
<line x1="97.5" y1="629.06" x2="104.5" y2="629.06" stroke="#2a2a2a" stroke-width="1.1"/>
<line x1="222.5" y1="629.06" x2="229.5" y2="629.06" stroke="#2a2a2a" stroke-width="1.1"/>
<line x1="97.5" y1="636.24" x2="104.5" y2="636.24" stroke="#2a2a2a" stroke-width="1.1"/>
<line x1="222.5" y1="636.24" x2="229.5" y2="636.24" stroke="#2a2a2a" stroke-width="1.1"/>
<line x1="97.5" y1="643.42" x2="104.5" y2="643.42" stroke="#2a2a2a" stroke-width="1.1"/>
<line x1="222.5" y1="643.42" x2="229.5" y2="643.42" stroke="#2a2a2a" stroke-width="1.1"/>
<line x1="97.5" y1="650.60" x2="111.0" y2="650.60" stroke="#2a2a2a" stroke-width="1.1"/>
<line x1="216.0" y1="650.60" x2="229.5" y2="650.60" stroke="#2a2a2a" stroke-width="1.1"/>
<line x1="97.5" y1="657.83" x2="104.5" y2="657.83" stroke="#2a2a2a" stroke-width="1.1"/>
<line x1="222.5" y1="657.83" x2="229.5" y2="657.83" stroke="#2a2a2a" stroke-width="1.1"/>
<line x1="97.5" y1="665.06" x2="104.5" y2="665.06" stroke="#2a2a2a" stroke-width="1.1"/>
<line x1="222.5" y1="665.06" x2="229.5" y2="665.06" stroke="#2a2a2a" stroke-width="1.1"/>
<line x1="97.5" y1="672.29" x2="104.5" y2="672.29" stroke="#2a2a2a" stroke-width="1.1"/>
<line x1="222.5" y1="672.29" x2="229.5" y2="672.29" stroke="#2a2a2a" stroke-width="1.1"/>
<line x1="97.5" y1="679.52" x2="104.5" y2="679.52" stroke="#2a2a2a" stroke-width="1.1"/>
<line x1="222.5" y1="679.52" x2="229.5" y2="679.52" stroke="#2a2a2a" stroke-width="1.1"/>
<line x1="97.5" y1="686.75" x2="104.5" y2="686.75" stroke="#2a2a2a" stroke-width="1.1"/>
<line x1="222.5" y1="686.75" x2="229.5" y2="686.75" stroke="#2a2a2a" stroke-width="1.1"/>
<line x1="97.5" y1="693.98" x2="104.5" y2="693.98" stroke="#2a2a2a" stroke-width="1.1"/>
<line x1="222.5" y1="693.98" x2="229.5" y2="693.98" stroke="#2a2a2a" stroke-width="1.1"/>
<line x1="97.5" y1="701.21" x2="104.5" y2="701.21" stroke="#2a2a2a" stroke-width="1.1"/>
<line x1="222.5" y1="701.21" x2="229.5" y2="701.21" stroke="#2a2a2a" stroke-width="1.1"/>
<line x1="97.5" y1="708.44" x2="104.5" y2="708.44" stroke="#2a2a2a" stroke-width="1.1"/>
<line x1="222.5" y1="708.44" x2="229.5" y2="708.44" stroke="#2a2a2a" stroke-width="1.1"/>
<line x1="97.5" y1="715.67" x2="104.5" y2="715.67" stroke="#2a2a2a" stroke-width="1.1"/>
<line x1="222.5" y1="715.67" x2="229.5" y2="715.67" stroke="#2a2a2a" stroke-width="1.1"/>
<line x1="97.5" y1="722.90" x2="111.0" y2="722.90" stroke="#2a2a2a" stroke-width="1.1"/>
<line x1="216.0" y1="722.90" x2="229.5" y2="722.90" stroke="#2a2a2a" stroke-width="1.1"/>
<line x1="97.5" y1="730.09" x2="104.5" y2="730.09" stroke="#2a2a2a" stroke-width="1.1"/>
<line x1="222.5" y1="730.09" x2="229.5" y2="730.09" stroke="#2a2a2a" stroke-width="1.1"/>
<line x1="97.5" y1="737.28" x2="104.5" y2="737.28" stroke="#2a2a2a" stroke-width="1.1"/>
<line x1="222.5" y1="737.28" x2="229.5" y2="737.28" stroke="#2a2a2a" stroke-width="1.1"/>
<line x1="97.5" y1="744.47" x2="104.5" y2="744.47" stroke="#2a2a2a" stroke-width="1.1"/>
<line x1="222.5" y1="744.47" x2="229.5" y2="744.47" stroke="#2a2a2a" stroke-width="1.1"/>
<line x1="97.5" y1="751.66" x2="104.5" y2="751.66" stroke="#2a2a2a" stroke-width="1.1"/>
<line x1="222.5" y1="751.66" x2="229.5" y2="751.66" stroke="#2a2a2a" stroke-width="1.1"/>
<line x1="97.5" y1="758.85" x2="104.5" y2="758.85" stroke="#2a2a2a" stroke-width="1.1"/>
<line x1="222.5" y1="758.85" x2="229.5" y2="758.85" stroke="#2a2a2a" stroke-width="1.1"/>
<line x1="97.5" y1="766.04" x2="104.5" y2="766.04" stroke="#2a2a2a" stroke-width="1.1"/>
<line x1="222.5" y1="766.04" x2="229.5" y2="766.04" stroke="#2a2a2a" stroke-width="1.1"/>
<line x1="97.5" y1="773.23" x2="104.5" y2="773.23" stroke="#2a2a2a" stroke-width="1.1"/>
<line x1="222.5" y1="773.23" x2="229.5" y2="773.23" stroke="#2a2a2a" stroke-width="1.1"/>
<line x1="97.5" y1="780.42" x2="104.5" y2="780.42" stroke="#2a2a2a" stroke-width="1.1"/>
<line x1="222.5" y1="780.42" x2="229.5" y2="780.42" stroke="#2a2a2a" stroke-width="1.1"/>
<line x1="97.5" y1="787.61" x2="104.5" y2="787.61" stroke="#2a2a2a" stroke-width="1.1"/>
<line x1="222.5" y1="787.61" x2="229.5" y2="787.61" stroke="#2a2a2a" stroke-width="1.1"/>
<line x1="97.5" y1="794.80" x2="111.0" y2="794.80" stroke="#2a2a2a" stroke-width="1.1"/>
<line x1="216.0" y1="794.80" x2="229.5" y2="794.80" stroke="#2a2a2a" stroke-width="1.1"/>
<line x1="97.5" y1="802.01" x2="104.5" y2="802.01" stroke="#2a2a2a" stroke-width="1.1"/>
<line x1="222.5" y1="802.01" x2="229.5" y2="802.01" stroke="#2a2a2a" stroke-width="1.1"/>
<line x1="97.5" y1="809.22" x2="104.5" y2="809.22" stroke="#2a2a2a" stroke-width="1.1"/>
<line x1="222.5" y1="809.22" x2="229.5" y2="809.22" stroke="#2a2a2a" stroke-width="1.1"/>
<line x1="97.5" y1="816.43" x2="104.5" y2="816.43" stroke="#2a2a2a" stroke-width="1.1"/>
<line x1="222.5" y1="816.43" x2="229.5" y2="816.43" stroke="#2a2a2a" stroke-width="1.1"/>
<line x1="97.5" y1="823.64" x2="104.5" y2="823.64" stroke="#2a2a2a" stroke-width="1.1"/>
<line x1="222.5" y1="823.64" x2="229.5" y2="823.64" stroke="#2a2a2a" stroke-width="1.1"/>
<line x1="97.5" y1="830.85" x2="104.5" y2="830.85" stroke="#2a2a2a" stroke-width="1.1"/>
<line x1="222.5" y1="830.85" x2="229.5" y2="830.85" stroke="#2a2a2a" stroke-width="1.1"/>
<line x1="97.5" y1="838.06" x2="104.5" y2="838.06" stroke="#2a2a2a" stroke-width="1.1"/>
<line x1="222.5" y1="838.06" x2="229.5" y2="838.06" stroke="#2a2a2a" stroke-width="1.1"/>
<line x1="97.5" y1="845.27" x2="104.5" y2="845.27" stroke="#2a2a2a" stroke-width="1.1"/>
<line x1="222.5" y1="845.27" x2="229.5" y2="845.27" stroke="#2a2a2a" stroke-width="1.1"/>
<line x1="97.5" y1="852.48" x2="104.5" y2="852.48" stroke="#2a2a2a" stroke-width="1.1"/>
<line x1="222.5" y1="852.48" x2="229.5" y2="852.48" stroke="#2a2a2a" stroke-width="1.1"/>
<line x1="97.5" y1="859.69" x2="104.5" y2="859.69" stroke="#2a2a2a" stroke-width="1.1"/>
<line x1="222.5" y1="859.69" x2="229.5" y2="859.69" stroke="#2a2a2a" stroke-width="1.1"/>
<line x1="97.5" y1="866.90" x2="111.0" y2="866.90" stroke="#2a2a2a" stroke-width="1.1"/>
<line x1="216.0" y1="866.90" x2="229.5" y2="866.90" stroke="#2a2a2a" stroke-width="1.1"/>
<line x1="97.5" y1="874.19" x2="104.5" y2="874.19" stroke="#2a2a2a" stroke-width="1.1"/>
<line x1="222.5" y1="874.19" x2="229.5" y2="874.19" stroke="#2a2a2a" stroke-width="1.1"/>
<line x1="97.5" y1="881.48" x2="104.5" y2="881.48" stroke="#2a2a2a" stroke-width="1.1"/>
<line x1="222.5" y1="881.48" x2="229.5" y2="881.48" stroke="#2a2a2a" stroke-width="1.1"/>
<line x1="97.5" y1="888.77" x2="104.5" y2="888.77" stroke="#2a2a2a" stroke-width="1.1"/>
<line x1="222.5" y1="888.77" x2="229.5" y2="888.77" stroke="#2a2a2a" stroke-width="1.1"/>
<line x1="97.5" y1="896.06" x2="104.5" y2="896.06" stroke="#2a2a2a" stroke-width="1.1"/>
<line x1="222.5" y1="896.06" x2="229.5" y2="896.06" stroke="#2a2a2a" stroke-width="1.1"/>
<line x1="97.5" y1="903.35" x2="104.5" y2="903.35" stroke="#2a2a2a" stroke-width="1.1"/>
<line x1="222.5" y1="903.35" x2="229.5" y2="903.35" stroke="#2a2a2a" stroke-width="1.1"/>
<line x1="97.5" y1="910.64" x2="104.5" y2="910.64" stroke="#2a2a2a" stroke-width="1.1"/>
<line x1="222.5" y1="910.64" x2="229.5" y2="910.64" stroke="#2a2a2a" stroke-width="1.1"/>
<line x1="97.5" y1="917.93" x2="104.5" y2="917.93" stroke="#2a2a2a" stroke-width="1.1"/>
<line x1="222.5" y1="917.93" x2="229.5" y2="917.93" stroke="#2a2a2a" stroke-width="1.1"/>
<line x1="97.5" y1="925.22" x2="104.5" y2="925.22" stroke="#2a2a2a" stroke-width="1.1"/>
<line x1="222.5" y1="925.22" x2="229.5" y2="925.22" stroke="#2a2a2a" stroke-width="1.1"/>
<line x1="97.5" y1="932.51" x2="104.5" y2="932.51" stroke="#2a2a2a" stroke-width="1.1"/>
<line x1="222.5" y1="932.51" x2="229.5" y2="932.51" stroke="#2a2a2a" stroke-width="1.1"/>
<line x1="97.5" y1="939.80" x2="111.0" y2="939.80" stroke="#2a2a2a" stroke-width="1.1"/>
<line x1="216.0" y1="939.80" x2="229.5" y2="939.80" stroke="#2a2a2a" stroke-width="1.1"/>
<line x1="97.5" y1="947.09" x2="104.5" y2="947.09" stroke="#2a2a2a" stroke-width="1.1"/>
<line x1="222.5" y1="947.09" x2="229.5" y2="947.09" stroke="#2a2a2a" stroke-width="1.1"/>
<line x1="97.5" y1="954.38" x2="104.5" y2="954.38" stroke="#2a2a2a" stroke-width="1.1"/>
<line x1="222.5" y1="954.38" x2="229.5" y2="954.38" stroke="#2a2a2a" stroke-width="1.1"/>
<line x1="97.5" y1="961.67" x2="104.5" y2="961.67" stroke="#2a2a2a" stroke-width="1.1"/>
<line x1="222.5" y1="961.67" x2="229.5" y2="961.67" stroke="#2a2a2a" stroke-width="1.1"/>
<line x1="97.5" y1="968.96" x2="104.5" y2="968.96" stroke="#2a2a2a" stroke-width="1.1"/>
<line x1="222.5" y1="968.96" x2="229.5" y2="968.96" stroke="#2a2a2a" stroke-width="1.1"/>
<line x1="97.5" y1="976.25" x2="104.5" y2="976.25" stroke="#2a2a2a" stroke-width="1.1"/>
<line x1="222.5" y1="976.25" x2="229.5" y2="976.25" stroke="#2a2a2a" stroke-width="1.1"/>
<line x1="97.5" y1="983.54" x2="104.5" y2="983.54" stroke="#2a2a2a" stroke-width="1.1"/>
<line x1="222.5" y1="983.54" x2="229.5" y2="983.54" stroke="#2a2a2a" stroke-width="1.1"/>
<line x1="97.5" y1="990.83" x2="104.5" y2="990.83" stroke="#2a2a2a" stroke-width="1.1"/>
<line x1="222.5" y1="990.83" x2="229.5" y2="990.83" stroke="#2a2a2a" stroke-width="1.1"/>
<line x1="97.5" y1="998.12" x2="104.5" y2="998.12" stroke="#2a2a2a" stroke-width="1.1"/>
<line x1="222.5" y1="998.12" x2="229.5" y2="998.12" stroke="#2a2a2a" stroke-width="1.1"/>
<line x1="0.50" y1="0.00" x2="0.50" y2="1004.00" stroke="#666" stroke-width="1.00"/>
<line x1="684.50" y1="0.00" x2="684.50" y2="142.00" stroke="#666" stroke-width="1.00"/>
<line x1="684.50" y1="142.00" x2="684.50" y2="1004.00" stroke="#999" stroke-width="1.00"/>
<line x1="0.00" y1="0.50" x2="685.00" y2="0.50" stroke="#777" stroke-width="1.00"/>
<line x1="0.00" y1="142.50" x2="685.00" y2="142.50" stroke="#666" stroke-width="1.00"/>
<line x1="0.00" y1="150.50" x2="685.00" y2="150.50" stroke="#a0a0a0" stroke-width="1.00"/>
<line x1="0.00" y1="343.60" x2="685.00" y2="343.60" stroke="#383838" stroke-width="1.30"/>
<line x1="0.00" y1="1003.50" x2="685.00" y2="1003.50" stroke="#555" stroke-width="1.00"/>
<line x1="97.50" y1="150.50" x2="97.50" y2="1004.00" stroke="#3c3c3c" stroke-width="1.20"/>
<line x1="229.50" y1="150.50" x2="229.50" y2="1004.00" stroke="#3c3c3c" stroke-width="1.20"/>
<line x1="305.50" y1="150.50" x2="305.50" y2="1004.00" stroke="#3c3c3c" stroke-width="1.20"/>
<line x1="437.50" y1="150.50" x2="437.50" y2="1004.00" stroke="#3c3c3c" stroke-width="1.20"/>
<line x1="539.50" y1="150.50" x2="539.50" y2="1004.00" stroke="#3c3c3c" stroke-width="1.20"/>
<line x1="305.50" y1="198.40" x2="437.00" y2="198.40" stroke="#a52a2a" stroke-width="2.60"/>
<line x1="437.00" y1="198.40" x2="539.50" y2="198.40" stroke="#0000ff" stroke-width="2.60"/>
<line x1="305.50" y1="295.10" x2="437.00" y2="295.10" stroke="#d48400" stroke-width="2.60"/>
<line x1="437.50" y1="295.30" x2="539.50" y2="295.30" stroke="#ff6a6a" stroke-width="1.20"/>
<clipPath id="tp"><rect x="305.5" y="344" width="132" height="660"/></clipPath>
<clipPath id="tf"><rect x="437.5" y="344" width="102" height="660"/></clipPath>
<g clip-path="url(#tp)">
<polyline points="313.0,344.9 306.5,345.1 306.5,348.0 382.6,350.3 306.5,352.8 385.5,355.6 306.5,358.7 383.0,362.2 382.6,365.7 385.6,366.6 397.0,367.9 402.3,369.5 397.0,370.9 375.1,371.4 369.9,374.0 370.8,376.2 376.0,377.5 383.9,378.2 377.8,379.1 376.9,380.6 378.2,382.3 372.5,383.6 388.3,385.0 375.1,386.3 386.5,387.8 395.3,389.3 381.3,390.2 321.4,391.8 314.9,393.8 340.0,395.7 379.8,397.9 340.0,399.6 372.2,403.7 306.5,406.0 357.6,408.4 306.5,410.1 306.5,412.7 321.1,415.6 306.5,417.8 322.5,420.0 312.3,422.5 327.6,425.1 318.1,426.6 386.8,429.2 325.4,431.7 389.7,433.9 331.3,436.1 367.8,438.0 306.5,439.4 392.6,442.7 313.8,447.0 358.3,447.8 351.1,450.1 402.2,449.8 355.2,452.3 373.6,453.4 383.8,455.4 376.7,457.0 386.9,459.1 378.7,460.3 355.7,461.5 378.7,461.8 394.0,464.2 402.7,466.5 396.2,468.6 399.8,470.5 397.6,472.3 400.5,474.5 399.1,476.0 402.0,477.8 395.4,480.7 399.8,482.5 395.4,484.3 404.2,487.3 401.3,489.1 406.4,490.9 398.4,492.7 407.8,494.6 404.9,497.1 405.7,498.9 399.1,501.9 387.4,503.3 396.9,504.8 389.6,507.3 402.0,509.2 402.3,510.0 393.8,512.1 398.1,514.2 389.6,515.6 396.7,517.0 386.7,518.0 407.3,519.4 389.6,521.3 371.2,523.4 386.7,524.8 371.2,525.5 352.7,527.7 386.7,528.4 399.5,530.2 400.9,533.3 403.2,535.8 406.6,538.3 399.5,540.7 370.5,543.0 386.7,544.0 385.3,546.1 402.3,549.6 372.6,551.0 388.2,552.5 396.7,553.9 386.7,555.7 392.4,557.6 396.7,559.5 388.2,561.0 398.1,561.7 376.8,563.8 395.2,565.2 393.8,567.3 396.7,569.4 405.2,570.7 405.3,573.2 406.6,575.6 410.1,577.7 408.0,580.6 410.1,582.0 408.0,584.8 409.1,586.6 408.7,588.4 405.9,591.2 406.6,593.3 406.0,595.7 407.5,598.0 407.3,600.4 406.7,602.8 407.8,605.1 406.6,607.5 403.7,611.0 395.2,613.2 382.5,614.9 393.8,616.3 403.7,618.1 404.6,619.9 406.6,621.7 406.8,623.9 405.9,626.0 404.5,628.4 405.2,630.7 406.9,632.8 407.3,634.9 408.8,637.0 412.2,639.2 399.5,642.7 413.7,644.8 411.5,646.6 408.0,648.4 409.4,651.9 406.9,654.4 405.9,656.9 409.4,659.7 408.0,663.2 412.2,663.5 411.6,665.5 410.1,667.5 409.3,669.6 411.1,671.8 410.1,673.9 408.7,676.0 408.5,677.9 410.5,679.8 410.1,681.7 409.4,684.5 408.9,687.1 410.0,689.8 407.8,692.1 404.0,694.3 402.3,696.6 407.1,699.5 408.3,701.6 407.5,703.8 408.9,706.0 409.0,708.1 407.5,710.0 408.6,712.0 406.5,713.9 407.7,715.9 406.2,717.8 406.3,719.9 409.1,722.1 408.4,724.2 410.0,726.4 408.0,728.8 404.2,731.2 405.5,733.7 408.1,736.1 403.3,738.0 406.9,740.2 407.5,742.5 411.0,744.7 409.5,746.7 407.1,748.6 411.9,751.5 408.3,753.7 406.0,756.0 402.3,758.2 411.0,761.1 408.0,763.5 407.1,765.9 408.7,767.8 409.0,769.8 406.3,771.8 405.2,773.9 403.8,775.8 401.3,777.7 385.9,779.6 395.6,780.6 399.4,782.5 400.4,785.4 403.3,788.3 404.5,790.7 407.1,793.1 405.3,795.5 402.3,797.9 397.4,800.3 393.6,802.8 403.3,804.7 403.1,806.6 401.3,808.5 405.2,810.5 403.5,812.4 404.2,814.3 402.3,816.2 401.8,818.1 404.0,820.1 403.3,822.0 399.0,824.0 396.5,825.9 401.3,827.8 403.3,829.8 403.3,831.7 403.9,834.1 406.2,836.5 404.7,838.9 402.3,841.3 402.8,843.7 405.2,846.1 404.9,848.4 401.6,850.6 401.3,852.9 403.5,855.3 404.2,857.7 402.3,861.2 305.5,863.5 368.6,864.5 345.5,867.3 368.6,868.3 382.1,871.2 405.2,873.1 399.4,876.0 399.5,878.4 401.3,880.8 397.5,882.8 350.3,885.3 387.9,885.6 405.2,886.6 399.4,889.5 401.3,891.9 402.3,894.3 400.4,896.2 400.4,898.2 402.1,900.1 402.3,902.0 401.4,904.3 402.0,906.5 401.3,908.8 400.3,910.7 402.3,912.5 400.9,914.4 402.2,916.2 400.6,918.1 401.7,920.0 400.7,921.8 402.1,923.7 400.3,925.6 401.6,927.4 400.4,929.3 401.6,931.1 401.2,933.0 404.0,935.4" fill="none" stroke="#d48400" stroke-width="2.7" stroke-linejoin="round" stroke-linecap="round"/>
<polyline points="404.0,935.4 404.1,940.0 413.7,940.8 410.0,941.2 409.5,954.1 409.1,969.1 411.2,971.2" fill="none" stroke="#d48400" stroke-width="2.2" stroke-linejoin="round" stroke-linecap="round"/>
<circle cx="404.8" cy="578.0" r="3.0" fill="#a52a2a"/>
<circle cx="379.8" cy="583.2" r="3.0" fill="#a52a2a"/>
<circle cx="379.2" cy="588.6" r="3.0" fill="#a52a2a"/>
<circle cx="386.4" cy="593.9" r="3.0" fill="#a52a2a"/>
<circle cx="390.8" cy="599.3" r="3.0" fill="#a52a2a"/>
<circle cx="388.8" cy="604.7" r="3.0" fill="#a52a2a"/>
<circle cx="384.1" cy="610.0" r="3.0" fill="#a52a2a"/>
<circle cx="379.0" cy="615.3" r="3.0" fill="#a52a2a"/>
<circle cx="395.1" cy="620.7" r="3.0" fill="#a52a2a"/>
<circle cx="411.3" cy="625.8" r="3.0" fill="#a52a2a"/>
<circle cx="384.5" cy="631.3" r="3.0" fill="#a52a2a"/>
<circle cx="396.7" cy="642.0" r="3.0" fill="#a52a2a"/>
<circle cx="409.8" cy="647.2" r="3.0" fill="#a52a2a"/>
<circle cx="381.4" cy="652.3" r="3.0" fill="#a52a2a"/>
<circle cx="372.2" cy="657.9" r="3.0" fill="#a52a2a"/>
<circle cx="356.1" cy="781.9" r="3.0" fill="#a52a2a"/>
<circle cx="389.2" cy="787.0" r="3.0" fill="#a52a2a"/>
<circle cx="382.5" cy="792.5" r="3.0" fill="#a52a2a"/>
<circle cx="401.3" cy="797.9" r="3.0" fill="#a52a2a"/>
<circle cx="389.2" cy="803.1" r="3.0" fill="#a52a2a"/>
<circle cx="397.1" cy="808.5" r="3.0" fill="#a52a2a"/>
<circle cx="388.2" cy="813.9" r="3.0" fill="#a52a2a"/>
<circle cx="370.9" cy="819.1" r="3.0" fill="#a52a2a"/>
<circle cx="385.5" cy="824.3" r="3.0" fill="#a52a2a"/>
<circle cx="385.5" cy="829.7" r="3.0" fill="#a52a2a"/>
<circle cx="311.7" cy="835.1" r="3.0" fill="#a52a2a"/>
<circle cx="361.5" cy="839.9" r="3.0" fill="#a52a2a"/>
<circle cx="360.9" cy="845.5" r="3.0" fill="#a52a2a"/>
<circle cx="383.0" cy="850.5" r="3.0" fill="#a52a2a"/>
<circle cx="383.0" cy="855.7" r="3.0" fill="#a52a2a"/>
</g>
<g clip-path="url(#tf)">
<circle cx="488.5" cy="577.8" r="2.3" fill="#ff0000"/>
<circle cx="479.9" cy="579.9" r="2.3" fill="#ff0000"/>
<circle cx="487.3" cy="583.0" r="2.3" fill="#ff0000"/>
<circle cx="493.7" cy="584.2" r="2.3" fill="#ff0000"/>
<circle cx="502.6" cy="587.0" r="2.3" fill="#ff0000"/>
<circle cx="514.3" cy="585.8" r="2.3" fill="#ff0000"/>
<circle cx="478.0" cy="589.2" r="2.3" fill="#ff0000"/>
<circle cx="474.9" cy="592.0" r="2.3" fill="#ff0000"/>
<circle cx="478.6" cy="594.2" r="2.3" fill="#ff0000"/>
<circle cx="492.9" cy="594.8" r="2.3" fill="#ff0000"/>
<circle cx="494.1" cy="597.0" r="2.3" fill="#ff0000"/>
<circle cx="486.7" cy="597.5" r="2.3" fill="#ff0000"/>
<circle cx="477.4" cy="600.4" r="2.3" fill="#ff0000"/>
<circle cx="489.8" cy="602.0" r="2.3" fill="#ff0000"/>
<circle cx="479.9" cy="604.7" r="2.3" fill="#ff0000"/>
<circle cx="489.2" cy="606.0" r="2.3" fill="#ff0000"/>
<circle cx="480.5" cy="609.7" r="2.3" fill="#ff0000"/>
<circle cx="491.0" cy="610.3" r="2.3" fill="#ff0000"/>
<circle cx="484.2" cy="613.6" r="2.3" fill="#ff0000"/>
<circle cx="492.9" cy="614.6" r="2.3" fill="#ff0000"/>
<circle cx="476.1" cy="618.1" r="2.3" fill="#ff0000"/>
<circle cx="488.5" cy="620.8" r="2.3" fill="#ff0000"/>
<circle cx="494.1" cy="623.9" r="2.3" fill="#ff0000"/>
<circle cx="481.7" cy="625.8" r="2.3" fill="#ff0000"/>
<circle cx="489.2" cy="626.4" r="2.3" fill="#ff0000"/>
<circle cx="494.7" cy="628.3" r="2.3" fill="#ff0000"/>
<circle cx="487.9" cy="621.2" r="2.3" fill="#ff0000"/>
<circle cx="494.1" cy="624.0" r="2.3" fill="#ff0000"/>
<circle cx="481.7" cy="625.6" r="2.3" fill="#ff0000"/>
<circle cx="494.7" cy="628.7" r="2.3" fill="#ff0000"/>
<circle cx="490.4" cy="628.9" r="2.3" fill="#ff0000"/>
<circle cx="481.3" cy="632.2" r="2.3" fill="#ff0000"/>
<circle cx="539.5" cy="635.0" r="2.3" fill="#ff0000"/>
<circle cx="539.5" cy="639.0" r="2.3" fill="#ff0000"/>
<circle cx="480.5" cy="641.7" r="2.3" fill="#ff0000"/>
<circle cx="491.6" cy="642.1" r="2.3" fill="#ff0000"/>
<circle cx="489.8" cy="647.3" r="2.3" fill="#ff0000"/>
<circle cx="486.1" cy="647.5" r="2.3" fill="#ff0000"/>
<circle cx="479.9" cy="652.9" r="2.3" fill="#ff0000"/>
<circle cx="492.0" cy="652.5" r="2.3" fill="#ff0000"/>
<circle cx="495.4" cy="655.0" r="2.3" fill="#ff0000"/>
<circle cx="480.5" cy="656.0" r="2.3" fill="#ff0000"/>
<circle cx="490.4" cy="657.8" r="2.3" fill="#ff0000"/>
<circle cx="483.0" cy="658.5" r="2.3" fill="#ff0000"/>
<circle cx="487.9" cy="782.2" r="2.3" fill="#ff0000"/>
<circle cx="488.5" cy="784.0" r="2.3" fill="#ff0000"/>
<circle cx="478.0" cy="787.8" r="2.3" fill="#ff0000"/>
<circle cx="497.2" cy="787.1" r="2.3" fill="#ff0000"/>
<circle cx="489.8" cy="790.2" r="2.3" fill="#ff0000"/>
<circle cx="503.4" cy="792.1" r="2.3" fill="#ff0000"/>
<circle cx="496.6" cy="793.3" r="2.3" fill="#ff0000"/>
<circle cx="497.2" cy="795.6" r="2.3" fill="#ff0000"/>
<circle cx="486.1" cy="797.7" r="2.3" fill="#ff0000"/>
<circle cx="494.1" cy="798.3" r="2.3" fill="#ff0000"/>
<circle cx="487.3" cy="802.7" r="2.3" fill="#ff0000"/>
<circle cx="500.9" cy="804.5" r="2.3" fill="#ff0000"/>
<circle cx="494.7" cy="800.6" r="2.3" fill="#ff0000"/>
<circle cx="487.9" cy="803.7" r="2.3" fill="#ff0000"/>
<circle cx="500.7" cy="805.6" r="2.3" fill="#ff0000"/>
<circle cx="482.6" cy="809.3" r="2.3" fill="#ff0000"/>
<circle cx="492.9" cy="810.5" r="2.3" fill="#ff0000"/>
<circle cx="494.7" cy="814.6" r="2.3" fill="#ff0000"/>
<circle cx="487.9" cy="816.1" r="2.3" fill="#ff0000"/>
<circle cx="488.5" cy="818.6" r="2.3" fill="#ff0000"/>
<circle cx="496.6" cy="821.3" r="2.3" fill="#ff0000"/>
<circle cx="485.7" cy="822.6" r="2.3" fill="#ff0000"/>
<circle cx="490.8" cy="824.2" r="2.3" fill="#ff0000"/>
<circle cx="495.4" cy="827.9" r="2.3" fill="#ff0000"/>
<circle cx="486.1" cy="829.5" r="2.3" fill="#ff0000"/>
<circle cx="488.5" cy="832.9" r="2.3" fill="#ff0000"/>
<circle cx="492.9" cy="832.0" r="2.3" fill="#ff0000"/>
<circle cx="511.5" cy="836.0" r="2.3" fill="#ff0000"/>
<circle cx="528.9" cy="835.0" r="2.3" fill="#ff0000"/>
<circle cx="520.8" cy="838.5" r="2.3" fill="#ff0000"/>
<circle cx="525.8" cy="837.5" r="2.3" fill="#ff0000"/>
<circle cx="509.6" cy="840.3" r="2.3" fill="#ff0000"/>
<circle cx="493.5" cy="840.9" r="2.3" fill="#ff0000"/>
<circle cx="479.2" cy="843.7" r="2.3" fill="#ff0000"/>
<circle cx="496.0" cy="845.3" r="2.3" fill="#ff0000"/>
<circle cx="489.8" cy="846.5" r="2.3" fill="#ff0000"/>
<circle cx="494.7" cy="848.4" r="2.3" fill="#ff0000"/>
<circle cx="488.5" cy="850.2" r="2.3" fill="#ff0000"/>
<circle cx="497.8" cy="851.5" r="2.3" fill="#ff0000"/>
<circle cx="496.0" cy="854.0" r="2.3" fill="#ff0000"/>
<circle cx="485.4" cy="856.1" r="2.3" fill="#ff0000"/>
<circle cx="533.8" cy="857.1" r="2.3" fill="#ff0000"/>
<circle cx="507.8" cy="858.3" r="2.3" fill="#ff0000"/>
<circle cx="509.0" cy="859.6" r="2.3" fill="#ff0000"/>
<polyline points="539.3,344.0 538.2,345.8 540.0,347.7 538.8,349.5 517.0,351.2 538.8,352.3 516.0,355.1 538.5,357.0 538.8,359.6 511.3,360.6 508.5,363.4 511.3,365.8 538.8,366.7 538.8,369.5 498.5,371.0 538.8,371.8 537.9,373.4 533.1,375.8 530.3,378.1 537.9,380.5 538.5,383.0 510.4,384.7 527.4,386.2 522.7,387.6 538.8,388.5 510.4,390.4 536.9,391.9 538.3,394.5 532.2,397.4 538.3,399.0 538.3,402.5 522.2,404.0 538.3,405.0 538.3,408.0 522.7,409.7 537.9,410.7 533.1,412.6 536.0,415.4 531.7,417.8 536.0,418.7 532.2,420.6 537.9,422.0 533.1,424.4 516.1,428.7 533.1,429.2 518.9,433.0 536.9,433.9 531.2,436.7 537.9,438.6 501.8,442.9 536.0,443.4 525.5,446.2 537.9,447.2 507.5,449.1 538.8,450.0 518.0,451.5 516.1,452.0 509.0,454.9 512.6,456.7 505.5,459.0 513.7,461.4 504.4,463.1 488.0,466.6 496.2,468.9 490.4,471.3 491.5,474.2 488.6,476.5 495.0,478.9 496.8,481.2 494.8,483.5 490.4,485.9 485.7,488.2 483.4,491.1 492.7,492.9 482.2,494.6 488.0,496.4 485.1,498.7 498.5,502.8 492.7,505.1 495.0,506.9 489.8,510.3 495.0,513.8 495.0,516.1 499.7,517.8 485.1,519.6 492.7,521.4 511.4,524.3 509.0,526.0 521.3,527.2 492.7,529.5 489.2,531.9 488.8,534.2 490.4,536.5 485.1,538.3 493.9,540.0 513.1,543.0 500.9,545.3 503.2,547.0 492.1,549.4 508.5,551.1 497.4,553.5 502.0,555.8 497.4,558.7 500.9,561.1 497.4,562.2 510.2,564.0 498.5,566.3 496.2,568.6 484.8,571.8 489.8,573.1 487.8,575.0 483.6,576.8 486.1,579.3 482.3,581.1 484.8,583.6 483.0,586.7 485.4,589.2 486.7,591.7 483.8,593.9 481.7,596.0 483.4,597.9 483.6,599.7 482.3,602.2 482.7,604.0 485.4,605.9 482.3,608.4 496.0,612.8 502.8,615.2 492.3,616.5 489.5,618.6 484.8,620.8 485.4,623.7 485.7,625.6 488.8,627.4 489.8,629.3 487.5,631.5 486.7,633.6 487.9,636.7 479.9,639.9 496.0,643.3 477.4,644.8 486.1,647.9 486.3,650.1 485.4,652.3 486.1,654.8 488.5,657.2 486.5,659.1 482.4,660.9 479.9,662.8 482.0,665.0 483.0,667.1 482.0,669.6 482.3,672.1 484.4,674.0 484.2,675.8 481.9,678.3 481.7,680.8 486.7,682.5 482.3,683.7 483.3,685.8 482.1,687.8 483.6,689.9 486.0,691.8 487.3,693.6 492.9,696.7 486.1,698.6 485.0,700.7 486.1,702.7 485.4,704.8 483.8,707.3 483.0,709.8 486.5,712.0 487.9,714.1 486.7,716.0 491.0,718.5 487.3,720.3 487.0,722.1 487.9,724.0 485.1,725.9 481.1,727.8 482.7,730.0 486.7,732.1 490.6,734.6 492.3,737.1 488.5,739.6 483.6,741.9 482.0,743.8 481.7,745.6 487.9,747.4 482.3,749.3 489.2,751.2 486.3,753.4 481.1,755.5 490.4,758.6 484.9,760.8 481.1,763.0 485.4,764.9 487.9,766.7 483.6,769.2 485.8,771.4 489.2,773.5 489.2,776.6 494.1,778.5 502.8,780.0 495.4,780.9 495.6,783.4 493.5,785.9 492.9,787.8 487.3,790.9 486.0,792.8 486.7,794.6 489.4,796.8 489.8,798.9 490.2,800.8 492.9,802.7 489.2,806.2 488.5,809.3 493.5,812.4 489.2,814.9 492.9,817.4 492.6,819.2 491.0,821.1 493.7,823.6 497.8,826.1 491.6,828.5 491.2,831.0 489.8,833.5 489.3,835.6 490.3,837.6 489.8,839.7 491.0,842.2 489.5,844.7 489.2,847.1 491.1,849.2 490.9,851.2 492.3,853.3 492.6,855.2 491.0,857.1 488.5,859.4 487.3,861.6 526.4,863.7 508.4,864.9 517.1,866.8 514.6,868.0" fill="none" stroke="#0000ff" stroke-width="3.0" stroke-linejoin="round" stroke-linecap="round"/>
<polyline points="514.6,868.0 498.5,870.5 489.2,873.0 492.3,875.5 489.2,878.0 492.3,879.8 483.0,881.3 492.9,882.9 515.8,885.4 487.3,887.5 501.0,888.3 495.4,890.4 494.6,892.5 494.7,894.7 490.4,897.8 493.5,899.7 493.3,902.2 492.3,904.6 492.5,906.5 494.1,908.3 494.2,910.4 493.1,912.5 493.5,914.6 494.6,917.0 493.0,920.1 503.9,922.3 437.8,924.2 495.5,923.9 494.3,926.2 492.1,928.5 492.1,930.7 493.3,933.0 493.0,935.2 497.1,938.5 477.8,941.1" fill="none" stroke="#0000ff" stroke-width="2.4" stroke-linejoin="round" stroke-linecap="round"/>
<polyline points="477.8,941.1 483.7,941.9 483.7,967.1 482.0,971.3" fill="none" stroke="#0000ff" stroke-width="2.2" stroke-linejoin="round" stroke-linecap="round"/>
</g>
<line x1="229.5" y1="451.5" x2="539.5" y2="451.5" stroke="#111" stroke-width="2"/>
<text transform="translate(298.73 40.80) scale(0.9939 1)" font-family='"Liberation Sans", sans-serif' font-weight="normal" font-size="22.20" fill="#000">LAYOUT</text>
<text transform="translate(251.19 73.50) scale(1.1854 1)" font-family='"Liberation Sans", sans-serif' font-weight="normal" font-size="17.80" fill="#000">Well(s):</text>
<text transform="translate(329.51 73.50) scale(1.2526 1)" font-family='"Liberation Sans", sans-serif' font-weight="bold" font-size="17.80" fill="#000">GS323-2A</text>
<text transform="translate(2.72 98.80) scale(1.2012 1)" font-family='"Liberation Sans", sans-serif' font-weight="normal" font-size="12.30" fill="#000">Project:</text>
<text transform="translate(57.46 98.80) scale(1.1728 1)" font-family='"Liberation Sans", sans-serif' font-weight="bold" font-size="12.30" fill="#000">Faten.Saqqara</text>
<text transform="translate(2.99 116.40) scale(1.2260 1)" font-family='"Liberation Sans", sans-serif' font-weight="normal" font-size="12.30" fill="#000">Dataset(s):</text>
<text transform="translate(82.12 116.40) scale(1.1690 1)" font-family='"Liberation Sans", sans-serif' font-weight="bold" font-size="12.30" fill="#000">GS323-2A,permeability,porosity</text>
<text transform="translate(9.35 132.70) scale(1.1778 1)" font-family='"Liberation Sans", sans-serif' font-weight="normal" font-size="12.30" fill="#000">Scale: 1:</text>
<text transform="translate(66.13 132.70) scale(1.2157 1)" font-family='"Liberation Sans", sans-serif' font-weight="bold" font-size="12.30" fill="#000">1000</text>
<text transform="translate(549.43 97.90) scale(1.1577 1)" font-family='"Liberation Sans", sans-serif' font-weight="normal" font-size="12.30" fill="#000">Author:</text>
<text transform="translate(600.26 97.90) scale(1.1707 1)" font-family='"Liberation Sans", sans-serif' font-weight="bold" font-size="12.30" fill="#000">Faten ADEL</text>
<text transform="translate(624.69 115.20) scale(1.3643 1)" font-family='"Liberation Sans", sans-serif' font-weight="normal" font-size="12.30" fill="#000">(ID:</text>
<text transform="translate(656.11 115.20) scale(1.1175 1)" font-family='"Liberation Sans", sans-serif' font-weight="bold" font-size="12.30" fill="#000">PC</text>
<text transform="translate(677.36 115.20) scale(1.1257 1)" font-family='"Liberation Sans", sans-serif' font-weight="normal" font-size="12.30" fill="#000">)</text>
<text transform="translate(565.69 132.70) scale(1.2333 1)" font-family='"Liberation Sans", sans-serif' font-weight="normal" font-size="12.30" fill="#000">Date:</text>
<text transform="translate(605.98 132.70) scale(1.4204 1)" font-family='"Liberation Sans", sans-serif' font-weight="bold" font-size="12.30" fill="#000">8/8/2025</text>
<rect x="588" y="7.8" width="11.1" height="2.4" fill="#0f356e"/>
<rect x="591.8" y="7.8" width="3.5" height="31.2" fill="#0f356e"/>
<g fill="none" stroke="#0f356e" stroke-width="3.6" stroke-linejoin="round"><path d="M608.15,30.3 V35.3 Q608.15,37.5 606,37.5 H602.7 Q600.55,37.5 600.55,35.3 V17.6 Q600.55,15.4 602.7,15.4 H606 Q608.15,15.4 608.15,17.6 V25.6 H600.55"/><path d="M622.45,22.7 V17.6 Q622.45,15.4 620.3,15.4 H617.1 Q614.95,15.4 614.95,17.6 V35.3 Q614.95,37.5 617.1,37.5 H620.3 Q622.45,37.5 622.45,35.3 V30.3"/><path d="M628.8,7.8 V38.8 M628.8,18 Q629.4,15.5 632,15.5 H634.6 Q636.8,15.5 636.8,17.7 V38.8"/><path d="M643.2,7.8 V38.8"/><path d="M651.4,15.5 H652.8 Q655.1,15.5 655.1,17.8 V35 Q655.1,37.3 652.8,37.3 H651.4 Q649.1,37.3 649.1,35 V17.8 Q649.1,15.5 651.4,15.5 Z"/><path d="M671.1,13.7 V40.1 Q671.1,42.3 668.9,42.3 H665.7 Q663.5,42.3 663.5,40.1 V39.6 M671.1,15.5 H665.8 Q663.5,15.5 663.5,17.8 V32.1 Q663.5,34.4 665.8,34.4 H671.1"/></g>
<text transform="translate(29.75 179.10) scale(1.0011 1)" font-family='"Liberation Serif", serif' font-weight="bold" font-size="23.40" fill="#000">MD</text>
<text transform="translate(32.82 254.69) scale(1.1486 1)" font-family='"Liberation Serif", serif' font-weight="bold" font-size="20.98" fill="#000">(ft)</text>
<text transform="translate(16.27 334.76) scale(1.0051 1)" font-family='"Liberation Serif", serif' font-weight="bold" font-size="22.79" fill="#000">1:1000</text>
<text transform="translate(125.95 179.70) scale(0.9989 1)" font-family='"Liberation Serif", serif' font-weight="bold" font-size="23.40" fill="#000">TVDSS</text>
<text transform="translate(147.62 254.60) scale(1.1216 1)" font-family='"Liberation Serif", serif' font-weight="bold" font-size="21.41" fill="#000">(ft)</text>
<text transform="translate(131.07 334.75) scale(0.9891 1)" font-family='"Liberation Serif", serif' font-weight="bold" font-size="23.09" fill="#000">1:1000</text>
<text transform="translate(308.98 180.90) scale(0.9937 1)" font-family='"Liberation Serif", serif' font-weight="bold" font-size="21.80" fill="#a52a2a">permVK_1_2</text>
<text transform="translate(312.33 227.49) scale(1.0285 1)" font-family='"Liberation Serif", serif' font-weight="bold" font-size="13.82" fill="#a52a2a">0.01</text>
<text transform="translate(359.84 227.60) scale(1.0245 1)" font-family='"Liberation Serif", serif' font-weight="bold" font-size="14.00" fill="#a52a2a">mD</text>
<text transform="translate(394.15 227.56) scale(1.0349 1)" font-family='"Liberation Serif", serif' font-weight="bold" font-size="13.93" fill="#a52a2a">10000</text>
<text transform="translate(314.17 278.30) scale(1.0161 1)" font-family='"Liberation Serif", serif' font-weight="bold" font-size="21.80" fill="#d48400">PERM_WR</text>
<text transform="translate(312.33 324.49) scale(1.0070 1)" font-family='"Liberation Serif", serif' font-weight="bold" font-size="14.12" fill="#d48400">0.01</text>
<text transform="translate(359.84 324.60) scale(1.0245 1)" font-family='"Liberation Serif", serif' font-weight="bold" font-size="14.00" fill="#d48400">mD</text>
<text transform="translate(394.15 324.56) scale(1.0133 1)" font-family='"Liberation Serif", serif' font-weight="bold" font-size="14.22" fill="#d48400">10000</text>
<text transform="translate(440.47 181.80) scale(1.0203 1)" font-family='"Liberation Serif", serif' font-weight="bold" font-size="21.80" fill="#0000ff">PHIE_ND</text>
<text transform="translate(446.11 228.55) scale(1.0397 1)" font-family='"Liberation Serif", serif' font-weight="bold" font-size="16.62" fill="#0000ff">0.3</text>
<text transform="translate(477.90 228.60) scale(0.9812 1)" font-family='"Liberation Serif", serif' font-weight="bold" font-size="16.80" fill="#0000ff">v/v</text>
<text transform="translate(521.99 228.63) scale(1.0667 1)" font-family='"Liberation Serif", serif' font-weight="bold" font-size="16.74" fill="#0000ff">0</text>
<text transform="translate(453.95 278.60) scale(1.0593 1)" font-family='"Liberation Serif", serif' font-weight="bold" font-size="21.80" fill="#ff0000">PHI_N</text>
<text transform="translate(446.11 325.45) scale(1.0397 1)" font-family='"Liberation Serif", serif' font-weight="bold" font-size="16.62" fill="#ff0000">0.3</text>
<text transform="translate(477.90 325.50) scale(0.9812 1)" font-family='"Liberation Serif", serif' font-weight="bold" font-size="16.80" fill="#ff0000">v/v</text>
<text transform="translate(521.99 325.53) scale(1.0667 1)" font-family='"Liberation Serif", serif' font-weight="bold" font-size="16.74" fill="#ff0000">0</text>
<clipPath id="hc"><rect x="230" y="151" width="75" height="192.5"/></clipPath>
<g clip-path="url(#hc)"><text transform="translate(275.30 343.30) rotate(-90) scale(0.9680 1)" font-family='"Liberation Serif", serif' font-weight="bold" font-size="23.40" fill="#000">stratigraphy -2A</text></g>
<text transform="translate(276.80 819.01) rotate(-90) scale(0.9629 1)" font-family='"Liberation Serif", serif' font-weight="bold" font-size="26.50" fill="#000">Nubia formation</text>
<text transform="translate(19.96 439.82) scale(1.0121 1)" font-family='"Liberation Serif", serif' font-weight="bold" font-size="22.67" fill="#000">14300</text>
<text transform="translate(19.96 528.39) scale(1.0121 1)" font-family='"Liberation Serif", serif' font-weight="bold" font-size="22.67" fill="#000">14400</text>
<text transform="translate(19.96 616.96) scale(1.0121 1)" font-family='"Liberation Serif", serif' font-weight="bold" font-size="22.67" fill="#000">14500</text>
<text transform="translate(19.96 705.53) scale(1.0121 1)" font-family='"Liberation Serif", serif' font-weight="bold" font-size="22.67" fill="#000">14600</text>
<text transform="translate(19.96 794.10) scale(1.0121 1)" font-family='"Liberation Serif", serif' font-weight="bold" font-size="22.67" fill="#000">14700</text>
<text transform="translate(19.96 882.67) scale(1.0121 1)" font-family='"Liberation Serif", serif' font-weight="bold" font-size="22.67" fill="#000">14800</text>
<text transform="translate(19.96 971.24) scale(1.0121 1)" font-family='"Liberation Serif", serif' font-weight="bold" font-size="22.67" fill="#000">14900</text>
<text transform="translate(135.16 372.67) scale(0.9898 1)" font-family='"Liberation Serif", serif' font-weight="bold" font-size="23.28" fill="#000">11775</text>
<text transform="translate(135.15 444.17) scale(0.9994 1)" font-family='"Liberation Serif", serif' font-weight="bold" font-size="23.11" fill="#000">11850</text>
<text transform="translate(135.16 515.37) scale(0.9898 1)" font-family='"Liberation Serif", serif' font-weight="bold" font-size="23.28" fill="#000">11925</text>
<text transform="translate(135.19 587.07) scale(0.9763 1)" font-family='"Liberation Serif", serif' font-weight="bold" font-size="23.11" fill="#000">12000</text>
<text transform="translate(135.20 658.87) scale(0.9742 1)" font-family='"Liberation Serif", serif' font-weight="bold" font-size="23.11" fill="#000">12075</text>
<text transform="translate(135.19 731.17) scale(0.9763 1)" font-family='"Liberation Serif", serif' font-weight="bold" font-size="23.11" fill="#000">12150</text>
<text transform="translate(135.20 803.07) scale(0.9670 1)" font-family='"Liberation Serif", serif' font-weight="bold" font-size="23.28" fill="#000">12225</text>
<text transform="translate(135.19 875.17) scale(0.9763 1)" font-family='"Liberation Serif", serif' font-weight="bold" font-size="23.11" fill="#000">12300</text>
<text transform="translate(135.20 948.07) scale(0.9670 1)" font-family='"Liberation Serif", serif' font-weight="bold" font-size="23.28" fill="#000">12375</text>
<rect x="193.8" y="909.5" width="43.6" height="33" fill="#fff" stroke="#000" stroke-width="1.5"/>
<text transform="translate(209.84 932.20) scale(0.9107 1)" font-family='"Liberation Serif", serif' font-weight="bold" font-size="17.60" fill="#000">A</text>
<rect x="359.5" y="909.7" width="43.7" height="33" fill="#fff" stroke="#000" stroke-width="1.5"/>
<text transform="translate(376.05 932.00) scale(0.9545 1)" font-family='"Liberation Serif", serif' font-weight="bold" font-size="17.60" fill="#000">B</text>
<defs>
<linearGradient id="lg1" x1="0" y1="0" x2="0" y2="1">
<stop offset="0" stop-color="#a85584"/><stop offset="0.5" stop-color="#c45a88"/><stop offset="1" stop-color="#b0467a"/></linearGradient>
<linearGradient id="lg3" x1="0" y1="0" x2="0" y2="1">
<stop offset="0" stop-color="#c8184e"/><stop offset="0.6" stop-color="#b01048"/><stop offset="1" stop-color="#7a0838"/></linearGradient>
<radialGradient id="lg2" cx="0.5" cy="0.5" r="0.5"><stop offset="0" stop-color="#fff4f8"/><stop offset="0.55" stop-color="#f4c0d4"/><stop offset="1" stop-color="#e07aa0" stop-opacity="0"/></radialGradient>
<clipPath id="lgc"><rect x="541.1" y="7.7" width="36.2" height="30.8" rx="1.6"/></clipPath>
</defs>
<g clip-path="url(#lgc)">
<rect x="541" y="7.5" width="37" height="31.5" fill="url(#lg1)"/>
<path d="M541 29 L578 13.5 L578 39 L541 39 Z" fill="url(#lg3)"/>
<ellipse cx="559" cy="23" rx="15" ry="10.5" fill="url(#lg2)" transform="rotate(-28 559 23)"/>
<path d="M555.2 12.8 C 563 11.5, 571 14, 571.6 18.5 C 572 24, 567 29.5, 560 32.5 C 553 35, 547.5 33, 546.6 28.5 C 546 23.5, 550 19, 555 17.6 C 560 16.3, 564 18, 563.2 21.6 C 562.4 25.5, 558.5 27.6, 555 27 C 552.5 26.5, 552.2 23.5, 554.2 21.6" fill="none" stroke="#9c0c5c" stroke-width="2.3" stroke-linecap="round"/>
<path d="M566 14.5 C 571 16.5, 571 22, 567 27" fill="none" stroke="#8a0a52" stroke-width="2.6" stroke-linecap="round"/>
</g>
</svg>
</body></html>
